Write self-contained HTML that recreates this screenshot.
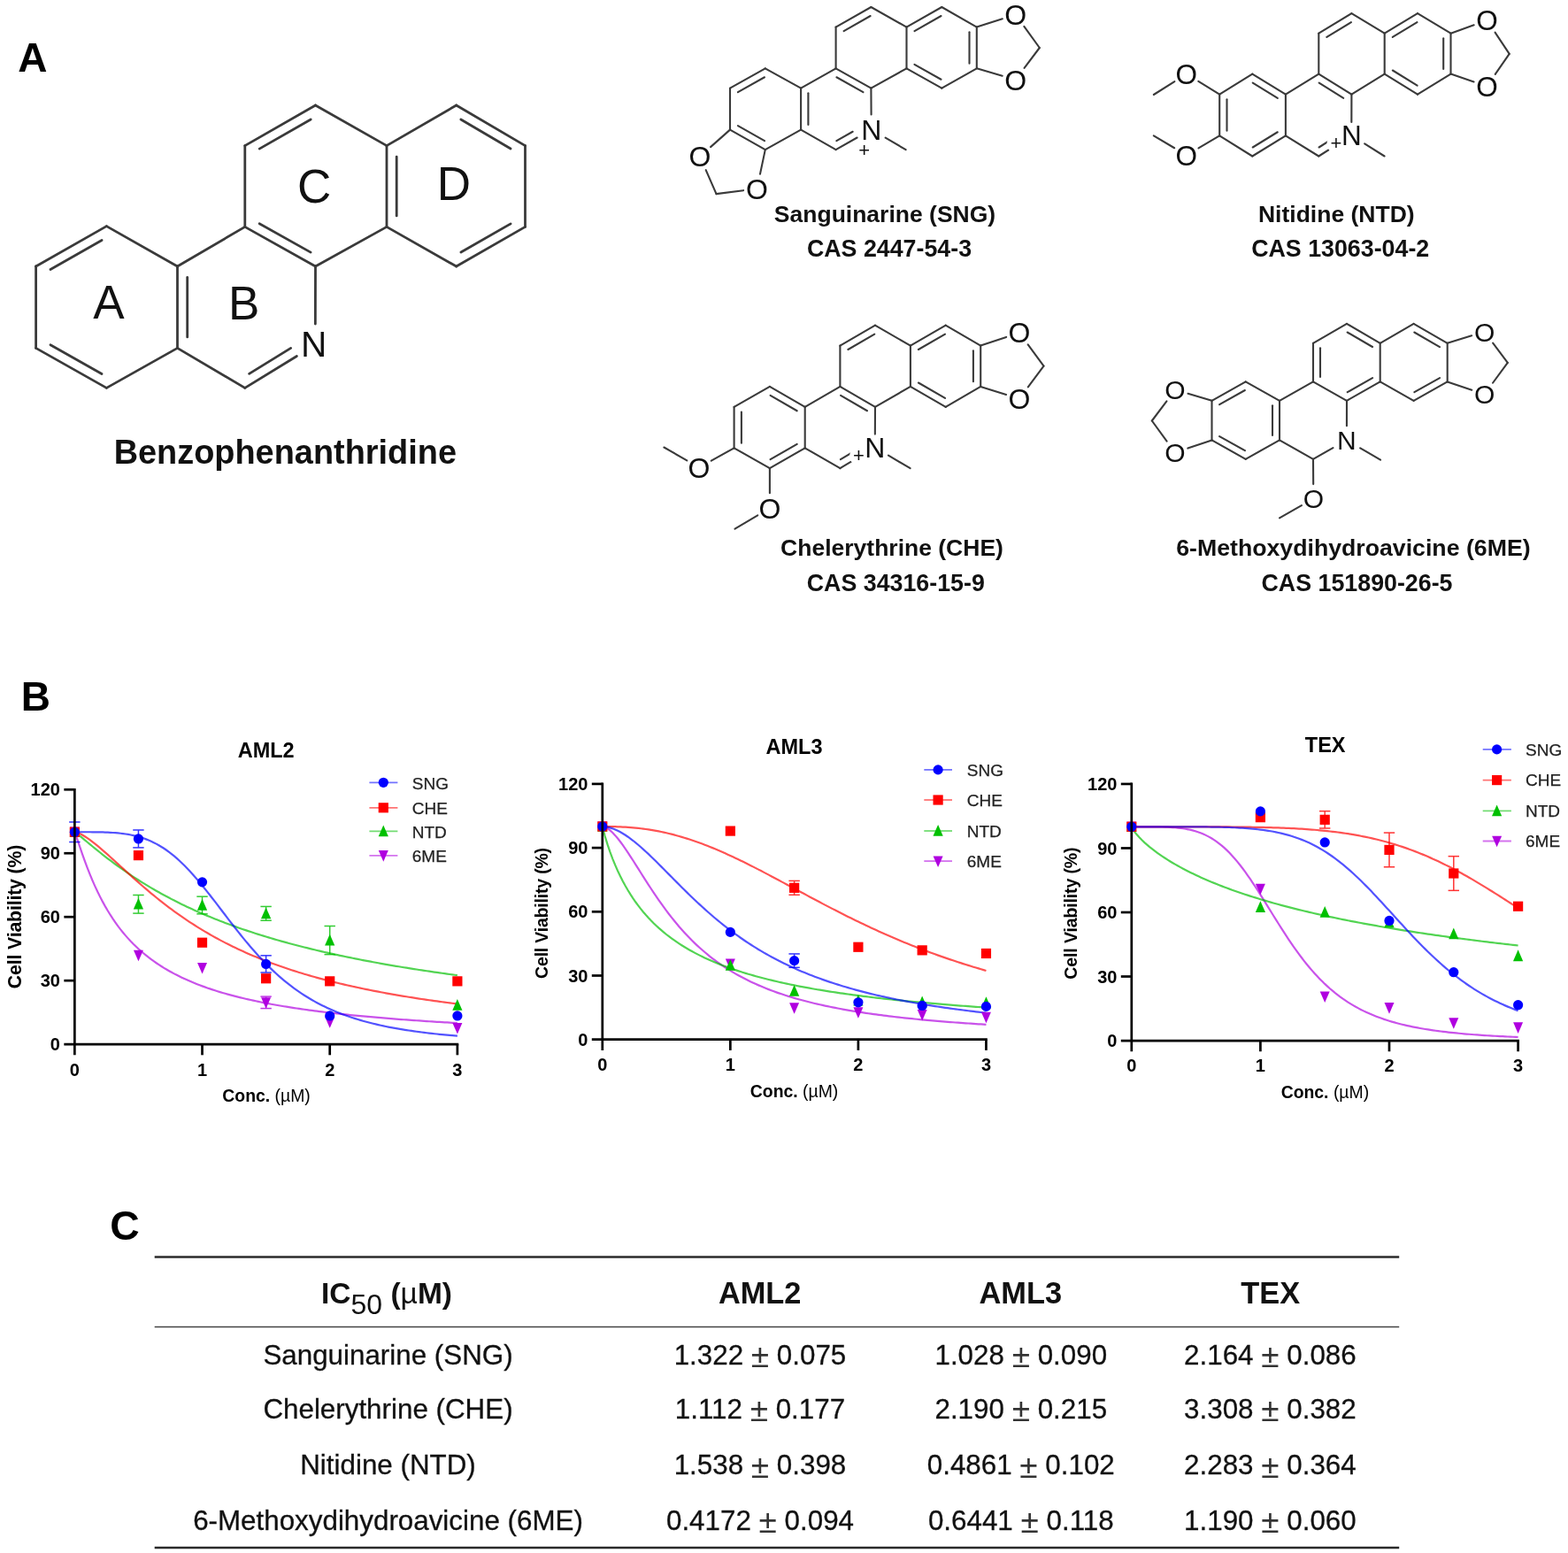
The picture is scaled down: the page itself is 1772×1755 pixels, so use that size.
<!DOCTYPE html>
<html lang="en"><head><meta charset="utf-8"><title>Benzophenanthridine alkaloids - cell viability</title>
<style>html,body{margin:0;padding:0;background:#fff}body{width:1772px;height:1755px;overflow:hidden}svg{display:block;position:absolute;left:0;top:0}text{font-family:'Liberation Sans', Arial, Helvetica, sans-serif}</style></head><body>
<svg width="1772" height="1755" viewBox="0 0 1772 1755">
<g>
<rect width="1772" height="1755" fill="#fff"/>
<g id="panel-labels">
<text x="20.3" y="80.6" font-size="46" font-weight="bold" text-anchor="start" fill="#000">A</text>
<text x="23.7" y="802.6" font-size="46" font-weight="bold" text-anchor="start" fill="#000">B</text>
<text x="124.2" y="1401.2" font-size="46.3" font-weight="bold" text-anchor="start" fill="#000">C</text>
</g>
<g id="benzophenanthridine">
<g stroke-linecap="round">
<line x1="40.6" y1="301" x2="120.4" y2="255.6" stroke="#3a3a3a" stroke-width="2.8" stroke-linecap="round"/>
<line x1="57" y1="304.55" x2="115.07" y2="271.52" stroke="#3a3a3a" stroke-width="2.8" stroke-linecap="round"/>
<line x1="120.4" y1="255.6" x2="200.5" y2="301" stroke="#3a3a3a" stroke-width="2.8" stroke-linecap="round"/>
<line x1="200.5" y1="301" x2="200.5" y2="393.4" stroke="#3a3a3a" stroke-width="2.8" stroke-linecap="round"/>
<line x1="211.7" y1="313.5" x2="211.7" y2="380.9" stroke="#3a3a3a" stroke-width="2.8" stroke-linecap="round"/>
<line x1="200.5" y1="393.4" x2="120.4" y2="438.4" stroke="#3a3a3a" stroke-width="2.8" stroke-linecap="round"/>
<line x1="120.4" y1="438.4" x2="40.6" y2="393.4" stroke="#3a3a3a" stroke-width="2.8" stroke-linecap="round"/>
<line x1="115.01" y1="422.5" x2="56.99" y2="389.78" stroke="#3a3a3a" stroke-width="2.8" stroke-linecap="round"/>
<line x1="40.6" y1="393.4" x2="40.6" y2="301" stroke="#3a3a3a" stroke-width="2.8" stroke-linecap="round"/>
<line x1="200.5" y1="301" x2="276.8" y2="256.4" stroke="#3a3a3a" stroke-width="2.8" stroke-linecap="round"/>
<line x1="276.8" y1="256.4" x2="356.5" y2="301" stroke="#3a3a3a" stroke-width="2.8" stroke-linecap="round"/>
<line x1="293.18" y1="252.73" x2="351.06" y2="285.12" stroke="#3a3a3a" stroke-width="2.8" stroke-linecap="round"/>
<line x1="356.5" y1="301" x2="356.35" y2="366.1" stroke="#3a3a3a" stroke-width="2.8" stroke-linecap="round"/>
<line x1="276.8" y1="438.4" x2="335.37" y2="402.45" stroke="#3a3a3a" stroke-width="2.8" stroke-linecap="round"/>
<line x1="281.59" y1="422.32" x2="328.66" y2="393.43" stroke="#3a3a3a" stroke-width="2.8" stroke-linecap="round"/>
<line x1="200.5" y1="393.4" x2="276.8" y2="438.4" stroke="#3a3a3a" stroke-width="2.8" stroke-linecap="round"/>
<line x1="276.8" y1="256.4" x2="276.8" y2="164.6" stroke="#3a3a3a" stroke-width="2.8" stroke-linecap="round"/>
<line x1="276.8" y1="164.6" x2="356.5" y2="119" stroke="#3a3a3a" stroke-width="2.8" stroke-linecap="round"/>
<line x1="293.21" y1="168.11" x2="351.21" y2="134.93" stroke="#3a3a3a" stroke-width="2.8" stroke-linecap="round"/>
<line x1="356.5" y1="119" x2="437" y2="164.6" stroke="#3a3a3a" stroke-width="2.8" stroke-linecap="round"/>
<line x1="437" y1="164.6" x2="437" y2="256.4" stroke="#3a3a3a" stroke-width="2.8" stroke-linecap="round"/>
<line x1="448.2" y1="177.1" x2="448.2" y2="243.9" stroke="#3a3a3a" stroke-width="2.8" stroke-linecap="round"/>
<line x1="437" y1="256.4" x2="356.5" y2="301" stroke="#3a3a3a" stroke-width="2.8" stroke-linecap="round"/>
<line x1="437" y1="164.6" x2="515.7" y2="119" stroke="#3a3a3a" stroke-width="2.8" stroke-linecap="round"/>
<line x1="515.7" y1="119" x2="593.5" y2="164.6" stroke="#3a3a3a" stroke-width="2.8" stroke-linecap="round"/>
<line x1="520.82" y1="134.98" x2="577.05" y2="167.94" stroke="#3a3a3a" stroke-width="2.8" stroke-linecap="round"/>
<line x1="593.5" y1="164.6" x2="593.5" y2="256.4" stroke="#3a3a3a" stroke-width="2.8" stroke-linecap="round"/>
<line x1="593.5" y1="256.4" x2="515.7" y2="301" stroke="#3a3a3a" stroke-width="2.8" stroke-linecap="round"/>
<line x1="577.09" y1="252.9" x2="520.97" y2="285.07" stroke="#3a3a3a" stroke-width="2.8" stroke-linecap="round"/>
<line x1="515.7" y1="301" x2="437" y2="256.4" stroke="#3a3a3a" stroke-width="2.8" stroke-linecap="round"/>
</g>
<text x="354.7" y="403.1" font-size="40.5" font-weight="normal" text-anchor="middle" fill="#111">N</text>
<text x="122.9" y="360.47" font-size="53" font-weight="normal" text-anchor="middle" fill="#111">A</text>
<text x="275.6" y="360.97" font-size="53" font-weight="normal" text-anchor="middle" fill="#111">B</text>
<text x="355.1" y="228.97" font-size="53" font-weight="normal" text-anchor="middle" fill="#111">C</text>
<text x="513" y="226.27" font-size="53" font-weight="normal" text-anchor="middle" fill="#111">D</text>
<text x="322.3" y="524.3" font-size="37.9" font-weight="bold" text-anchor="middle" fill="#111">Benzophenanthridine</text>
</g>
<g id="sanguinarine">
<g stroke-linecap="round">
<line x1="825" y1="99.7" x2="864.8" y2="77.3" stroke="#3a3a3a" stroke-width="2.1" stroke-linecap="round"/>
<line x1="833.95" y1="104.19" x2="863.99" y2="87.28" stroke="#3a3a3a" stroke-width="2.1" stroke-linecap="round"/>
<line x1="864.8" y1="77.3" x2="905.1" y2="99.7" stroke="#3a3a3a" stroke-width="2.1" stroke-linecap="round"/>
<line x1="905.1" y1="99.7" x2="905.1" y2="146.6" stroke="#3a3a3a" stroke-width="2.1" stroke-linecap="round"/>
<line x1="913.4" y1="105.3" x2="913.4" y2="141" stroke="#3a3a3a" stroke-width="2.1" stroke-linecap="round"/>
<line x1="905.1" y1="146.6" x2="864.8" y2="169.1" stroke="#3a3a3a" stroke-width="2.1" stroke-linecap="round"/>
<line x1="864.8" y1="169.1" x2="825" y2="146.6" stroke="#3a3a3a" stroke-width="2.1" stroke-linecap="round"/>
<line x1="864.01" y1="159.12" x2="833.96" y2="142.13" stroke="#3a3a3a" stroke-width="2.1" stroke-linecap="round"/>
<line x1="825" y1="146.6" x2="825" y2="99.7" stroke="#3a3a3a" stroke-width="2.1" stroke-linecap="round"/>
<line x1="905.1" y1="99.7" x2="944.6" y2="77.3" stroke="#3a3a3a" stroke-width="2.1" stroke-linecap="round"/>
<line x1="944.6" y1="77.3" x2="984.4" y2="99.7" stroke="#3a3a3a" stroke-width="2.1" stroke-linecap="round"/>
<line x1="945.41" y1="87.28" x2="975.45" y2="104.19" stroke="#3a3a3a" stroke-width="2.1" stroke-linecap="round"/>
<line x1="984.4" y1="99.7" x2="984.59" y2="129.4" stroke="#3a3a3a" stroke-width="2.1" stroke-linecap="round"/>
<line x1="944.6" y1="169.1" x2="968.64" y2="155.49" stroke="#3a3a3a" stroke-width="2.1" stroke-linecap="round"/>
<line x1="945.38" y1="159.12" x2="963.68" y2="148.76" stroke="#3a3a3a" stroke-width="2.1" stroke-linecap="round"/>
<line x1="905.1" y1="146.6" x2="944.6" y2="169.1" stroke="#3a3a3a" stroke-width="2.1" stroke-linecap="round"/>
<line x1="944.6" y1="77.3" x2="944.6" y2="30.6" stroke="#3a3a3a" stroke-width="2.1" stroke-linecap="round"/>
<line x1="944.6" y1="30.6" x2="984.4" y2="8" stroke="#3a3a3a" stroke-width="2.1" stroke-linecap="round"/>
<line x1="953.57" y1="35.05" x2="983.63" y2="17.98" stroke="#3a3a3a" stroke-width="2.1" stroke-linecap="round"/>
<line x1="984.4" y1="8" x2="1024.5" y2="30.6" stroke="#3a3a3a" stroke-width="2.1" stroke-linecap="round"/>
<line x1="1024.5" y1="30.6" x2="1024.5" y2="77.3" stroke="#3a3a3a" stroke-width="2.1" stroke-linecap="round"/>
<line x1="1024.5" y1="77.3" x2="984.4" y2="99.7" stroke="#3a3a3a" stroke-width="2.1" stroke-linecap="round"/>
<line x1="1024.5" y1="30.6" x2="1064.3" y2="8" stroke="#3a3a3a" stroke-width="2.1" stroke-linecap="round"/>
<line x1="1033.47" y1="35.05" x2="1063.53" y2="17.98" stroke="#3a3a3a" stroke-width="2.1" stroke-linecap="round"/>
<line x1="1064.3" y1="8" x2="1103.8" y2="30.6" stroke="#3a3a3a" stroke-width="2.1" stroke-linecap="round"/>
<line x1="1103.8" y1="30.6" x2="1103.8" y2="77.3" stroke="#3a3a3a" stroke-width="2.1" stroke-linecap="round"/>
<line x1="1095.5" y1="36.2" x2="1095.5" y2="71.7" stroke="#3a3a3a" stroke-width="2.1" stroke-linecap="round"/>
<line x1="1103.8" y1="77.3" x2="1064.3" y2="99.7" stroke="#3a3a3a" stroke-width="2.1" stroke-linecap="round"/>
<line x1="1064.3" y1="99.7" x2="1024.5" y2="77.3" stroke="#3a3a3a" stroke-width="2.1" stroke-linecap="round"/>
<line x1="1063.49" y1="89.72" x2="1033.45" y2="72.81" stroke="#3a3a3a" stroke-width="2.1" stroke-linecap="round"/>
<line x1="1103.8" y1="30.6" x2="1132.82" y2="21.35" stroke="#3a3a3a" stroke-width="2.1" stroke-linecap="round"/>
<line x1="1103.8" y1="77.3" x2="1132.72" y2="85.73" stroke="#3a3a3a" stroke-width="2.1" stroke-linecap="round"/>
<line x1="1157.34" y1="29.91" x2="1174.8" y2="54" stroke="#3a3a3a" stroke-width="2.1" stroke-linecap="round"/>
<line x1="1157.55" y1="76.98" x2="1174.8" y2="54" stroke="#3a3a3a" stroke-width="2.1" stroke-linecap="round"/>
<line x1="825" y1="146.6" x2="803.05" y2="166.1" stroke="#3a3a3a" stroke-width="2.1" stroke-linecap="round"/>
<line x1="864.8" y1="169.1" x2="858.99" y2="196.64" stroke="#3a3a3a" stroke-width="2.1" stroke-linecap="round"/>
<line x1="797.7" y1="192.13" x2="809.5" y2="219.1" stroke="#3a3a3a" stroke-width="2.1" stroke-linecap="round"/>
<line x1="840.1" y1="215.17" x2="809.5" y2="219.1" stroke="#3a3a3a" stroke-width="2.1" stroke-linecap="round"/>
<line x1="1000.61" y1="155.69" x2="1023.6" y2="169.1" stroke="#3a3a3a" stroke-width="2.1" stroke-linecap="round"/>
</g>
<text x="984.7" y="157.86" font-size="32" font-weight="normal" text-anchor="middle" fill="#111">N</text>
<text x="1147.7" y="28.06" font-size="32" font-weight="normal" text-anchor="middle" fill="#111">O</text>
<text x="1147.7" y="101.56" font-size="32" font-weight="normal" text-anchor="middle" fill="#111">O</text>
<text x="791" y="188.26" font-size="32" font-weight="normal" text-anchor="middle" fill="#111">O</text>
<text x="855.5" y="224.66" font-size="32" font-weight="normal" text-anchor="middle" fill="#111">O</text>
<text x="976.8" y="177" font-size="22" font-weight="normal" text-anchor="middle" fill="#111">+</text>
<text x="1000" y="251" font-size="26.5" font-weight="bold" text-anchor="middle" fill="#111">Sanguinarine (SNG)</text>
<text x="1005" y="289.5" font-size="26.8" font-weight="bold" text-anchor="middle" fill="#111">CAS 2447-54-3</text>
</g>
<g id="nitidine">
<g stroke-linecap="round">
<line x1="1378.2" y1="106.7" x2="1415.3" y2="83.6" stroke="#3a3a3a" stroke-width="2.1" stroke-linecap="round"/>
<line x1="1415.3" y1="83.6" x2="1452.9" y2="106.7" stroke="#3a3a3a" stroke-width="2.1" stroke-linecap="round"/>
<line x1="1415.73" y1="93.6" x2="1443.78" y2="110.84" stroke="#3a3a3a" stroke-width="2.1" stroke-linecap="round"/>
<line x1="1452.9" y1="106.7" x2="1452.9" y2="153.4" stroke="#3a3a3a" stroke-width="2.1" stroke-linecap="round"/>
<line x1="1452.9" y1="153.4" x2="1415.3" y2="176.5" stroke="#3a3a3a" stroke-width="2.1" stroke-linecap="round"/>
<line x1="1443.78" y1="149.26" x2="1415.73" y2="166.5" stroke="#3a3a3a" stroke-width="2.1" stroke-linecap="round"/>
<line x1="1415.3" y1="176.5" x2="1378.2" y2="153.4" stroke="#3a3a3a" stroke-width="2.1" stroke-linecap="round"/>
<line x1="1378.2" y1="153.4" x2="1378.2" y2="106.7" stroke="#3a3a3a" stroke-width="2.1" stroke-linecap="round"/>
<line x1="1386.5" y1="147.8" x2="1386.5" y2="112.3" stroke="#3a3a3a" stroke-width="2.1" stroke-linecap="round"/>
<line x1="1452.9" y1="106.7" x2="1490.3" y2="83.6" stroke="#3a3a3a" stroke-width="2.1" stroke-linecap="round"/>
<line x1="1490.3" y1="83.6" x2="1527.4" y2="106.7" stroke="#3a3a3a" stroke-width="2.1" stroke-linecap="round"/>
<line x1="1490.67" y1="93.61" x2="1518.26" y2="110.79" stroke="#3a3a3a" stroke-width="2.1" stroke-linecap="round"/>
<line x1="1527.4" y1="106.7" x2="1527.33" y2="138" stroke="#3a3a3a" stroke-width="2.1" stroke-linecap="round"/>
<line x1="1490.3" y1="176.5" x2="1512.5" y2="162.4" stroke="#3a3a3a" stroke-width="2.1" stroke-linecap="round"/>
<line x1="1490.58" y1="166.49" x2="1507.2" y2="155.93" stroke="#3a3a3a" stroke-width="2.1" stroke-linecap="round"/>
<line x1="1452.9" y1="153.4" x2="1490.3" y2="176.5" stroke="#3a3a3a" stroke-width="2.1" stroke-linecap="round"/>
<line x1="1490.3" y1="83.6" x2="1490.3" y2="37.7" stroke="#3a3a3a" stroke-width="2.1" stroke-linecap="round"/>
<line x1="1490.3" y1="37.7" x2="1527.4" y2="15.2" stroke="#3a3a3a" stroke-width="2.1" stroke-linecap="round"/>
<line x1="1499.39" y1="41.89" x2="1526.92" y2="25.2" stroke="#3a3a3a" stroke-width="2.1" stroke-linecap="round"/>
<line x1="1527.4" y1="15.2" x2="1564.7" y2="37.7" stroke="#3a3a3a" stroke-width="2.1" stroke-linecap="round"/>
<line x1="1564.7" y1="37.7" x2="1564.7" y2="83.6" stroke="#3a3a3a" stroke-width="2.1" stroke-linecap="round"/>
<line x1="1564.7" y1="83.6" x2="1527.4" y2="106.7" stroke="#3a3a3a" stroke-width="2.1" stroke-linecap="round"/>
<line x1="1564.7" y1="37.7" x2="1602" y2="15.2" stroke="#3a3a3a" stroke-width="2.1" stroke-linecap="round"/>
<line x1="1573.78" y1="41.91" x2="1601.49" y2="25.2" stroke="#3a3a3a" stroke-width="2.1" stroke-linecap="round"/>
<line x1="1602" y1="15.2" x2="1639.5" y2="37.7" stroke="#3a3a3a" stroke-width="2.1" stroke-linecap="round"/>
<line x1="1639.5" y1="37.7" x2="1639.5" y2="83.6" stroke="#3a3a3a" stroke-width="2.1" stroke-linecap="round"/>
<line x1="1631.2" y1="43.3" x2="1631.2" y2="78" stroke="#3a3a3a" stroke-width="2.1" stroke-linecap="round"/>
<line x1="1639.5" y1="83.6" x2="1602" y2="106.7" stroke="#3a3a3a" stroke-width="2.1" stroke-linecap="round"/>
<line x1="1602" y1="106.7" x2="1564.7" y2="83.6" stroke="#3a3a3a" stroke-width="2.1" stroke-linecap="round"/>
<line x1="1601.61" y1="96.7" x2="1573.83" y2="79.49" stroke="#3a3a3a" stroke-width="2.1" stroke-linecap="round"/>
<line x1="1639.5" y1="37.7" x2="1665.67" y2="28.29" stroke="#3a3a3a" stroke-width="2.1" stroke-linecap="round"/>
<line x1="1639.5" y1="83.6" x2="1665.59" y2="92.4" stroke="#3a3a3a" stroke-width="2.1" stroke-linecap="round"/>
<line x1="1689.57" y1="36.7" x2="1705.7" y2="60.8" stroke="#3a3a3a" stroke-width="2.1" stroke-linecap="round"/>
<line x1="1689.76" y1="83.85" x2="1705.7" y2="60.8" stroke="#3a3a3a" stroke-width="2.1" stroke-linecap="round"/>
<line x1="1378.2" y1="106.7" x2="1354.29" y2="91.87" stroke="#3a3a3a" stroke-width="2.1" stroke-linecap="round"/>
<line x1="1378.2" y1="153.4" x2="1354.46" y2="167.37" stroke="#3a3a3a" stroke-width="2.1" stroke-linecap="round"/>
<line x1="1327.39" y1="92.02" x2="1303.8" y2="107" stroke="#3a3a3a" stroke-width="2.1" stroke-linecap="round"/>
<line x1="1327.19" y1="167.27" x2="1303.8" y2="153.3" stroke="#3a3a3a" stroke-width="2.1" stroke-linecap="round"/>
<line x1="1542.15" y1="162.36" x2="1564.6" y2="176.5" stroke="#3a3a3a" stroke-width="2.1" stroke-linecap="round"/>
</g>
<circle cx="1509.9" cy="162.7" r="10.5" fill="#fff"/>
<text x="1527.3" y="164.28" font-size="31.5" font-weight="normal" text-anchor="middle" fill="#111">N</text>
<text x="1680.4" y="34.28" font-size="31.5" font-weight="normal" text-anchor="middle" fill="#111">O</text>
<text x="1680.4" y="108.68" font-size="31.5" font-weight="normal" text-anchor="middle" fill="#111">O</text>
<text x="1340.8" y="94.78" font-size="31.5" font-weight="normal" text-anchor="middle" fill="#111">O</text>
<text x="1340.8" y="186.68" font-size="31.5" font-weight="normal" text-anchor="middle" fill="#111">O</text>
<text x="1509.9" y="169.3" font-size="22" font-weight="normal" text-anchor="middle" fill="#111">+</text>
<text x="1510.3" y="251.4" font-size="26.5" font-weight="bold" text-anchor="middle" fill="#111">Nitidine (NTD)</text>
<text x="1514.7" y="289.5" font-size="26.8" font-weight="bold" text-anchor="middle" fill="#111">CAS 13063-04-2</text>
</g>
<g id="chelerythrine">
<g stroke-linecap="round">
<line x1="829.6" y1="459.9" x2="869.9" y2="436.9" stroke="#3a3a3a" stroke-width="2.1" stroke-linecap="round"/>
<line x1="869.9" y1="436.9" x2="909.7" y2="459.9" stroke="#3a3a3a" stroke-width="2.1" stroke-linecap="round"/>
<line x1="870.6" y1="446.89" x2="900.7" y2="464.28" stroke="#3a3a3a" stroke-width="2.1" stroke-linecap="round"/>
<line x1="909.7" y1="459.9" x2="909.7" y2="506.3" stroke="#3a3a3a" stroke-width="2.1" stroke-linecap="round"/>
<line x1="909.7" y1="506.3" x2="869.9" y2="529.2" stroke="#3a3a3a" stroke-width="2.1" stroke-linecap="round"/>
<line x1="900.71" y1="501.9" x2="870.61" y2="519.21" stroke="#3a3a3a" stroke-width="2.1" stroke-linecap="round"/>
<line x1="869.9" y1="529.2" x2="829.6" y2="506.3" stroke="#3a3a3a" stroke-width="2.1" stroke-linecap="round"/>
<line x1="829.6" y1="506.3" x2="829.6" y2="459.9" stroke="#3a3a3a" stroke-width="2.1" stroke-linecap="round"/>
<line x1="837.9" y1="500.7" x2="837.9" y2="465.5" stroke="#3a3a3a" stroke-width="2.1" stroke-linecap="round"/>
<line x1="909.7" y1="459.9" x2="949.4" y2="436.9" stroke="#3a3a3a" stroke-width="2.1" stroke-linecap="round"/>
<line x1="949.4" y1="436.9" x2="989" y2="459.9" stroke="#3a3a3a" stroke-width="2.1" stroke-linecap="round"/>
<line x1="950.07" y1="446.89" x2="979.99" y2="464.26" stroke="#3a3a3a" stroke-width="2.1" stroke-linecap="round"/>
<line x1="989" y1="459.9" x2="988.87" y2="490.6" stroke="#3a3a3a" stroke-width="2.1" stroke-linecap="round"/>
<line x1="949.4" y1="529.2" x2="973.66" y2="514.67" stroke="#3a3a3a" stroke-width="2.1" stroke-linecap="round"/>
<line x1="949.94" y1="519.2" x2="968.54" y2="508.06" stroke="#3a3a3a" stroke-width="2.1" stroke-linecap="round"/>
<line x1="909.7" y1="506.3" x2="949.4" y2="529.2" stroke="#3a3a3a" stroke-width="2.1" stroke-linecap="round"/>
<line x1="949.4" y1="436.9" x2="949.4" y2="390.6" stroke="#3a3a3a" stroke-width="2.1" stroke-linecap="round"/>
<line x1="949.4" y1="390.6" x2="989" y2="367.7" stroke="#3a3a3a" stroke-width="2.1" stroke-linecap="round"/>
<line x1="958.4" y1="394.98" x2="988.31" y2="377.69" stroke="#3a3a3a" stroke-width="2.1" stroke-linecap="round"/>
<line x1="989" y1="367.7" x2="1028.9" y2="390.6" stroke="#3a3a3a" stroke-width="2.1" stroke-linecap="round"/>
<line x1="1028.9" y1="390.6" x2="1028.9" y2="436.9" stroke="#3a3a3a" stroke-width="2.1" stroke-linecap="round"/>
<line x1="1028.9" y1="436.9" x2="989" y2="459.9" stroke="#3a3a3a" stroke-width="2.1" stroke-linecap="round"/>
<line x1="1028.9" y1="390.6" x2="1068.7" y2="367.7" stroke="#3a3a3a" stroke-width="2.1" stroke-linecap="round"/>
<line x1="1037.89" y1="395" x2="1067.99" y2="377.69" stroke="#3a3a3a" stroke-width="2.1" stroke-linecap="round"/>
<line x1="1068.7" y1="367.7" x2="1108.2" y2="390.6" stroke="#3a3a3a" stroke-width="2.1" stroke-linecap="round"/>
<line x1="1108.2" y1="390.6" x2="1108.2" y2="436.9" stroke="#3a3a3a" stroke-width="2.1" stroke-linecap="round"/>
<line x1="1099.9" y1="396.2" x2="1099.9" y2="431.3" stroke="#3a3a3a" stroke-width="2.1" stroke-linecap="round"/>
<line x1="1108.2" y1="436.9" x2="1068.7" y2="459.9" stroke="#3a3a3a" stroke-width="2.1" stroke-linecap="round"/>
<line x1="1068.7" y1="459.9" x2="1028.9" y2="436.9" stroke="#3a3a3a" stroke-width="2.1" stroke-linecap="round"/>
<line x1="1068" y1="449.91" x2="1037.9" y2="432.52" stroke="#3a3a3a" stroke-width="2.1" stroke-linecap="round"/>
<line x1="1108.2" y1="390.6" x2="1137.17" y2="380.94" stroke="#3a3a3a" stroke-width="2.1" stroke-linecap="round"/>
<line x1="1108.2" y1="436.9" x2="1137.09" y2="445.94" stroke="#3a3a3a" stroke-width="2.1" stroke-linecap="round"/>
<line x1="1161.68" y1="389.27" x2="1179.5" y2="413.7" stroke="#3a3a3a" stroke-width="2.1" stroke-linecap="round"/>
<line x1="1161.81" y1="437.44" x2="1179.5" y2="413.7" stroke="#3a3a3a" stroke-width="2.1" stroke-linecap="round"/>
<line x1="829.6" y1="506.3" x2="803.83" y2="520.62" stroke="#3a3a3a" stroke-width="2.1" stroke-linecap="round"/>
<line x1="869.9" y1="529.2" x2="869.9" y2="557.3" stroke="#3a3a3a" stroke-width="2.1" stroke-linecap="round"/>
<line x1="776.28" y1="520.4" x2="750.4" y2="505.5" stroke="#3a3a3a" stroke-width="2.1" stroke-linecap="round"/>
<line x1="856.26" y1="582.37" x2="830.5" y2="597.6" stroke="#3a3a3a" stroke-width="2.1" stroke-linecap="round"/>
<line x1="1003.99" y1="514.61" x2="1028.6" y2="529.2" stroke="#3a3a3a" stroke-width="2.1" stroke-linecap="round"/>
</g>
<circle cx="970.4" cy="515.4" r="10.5" fill="#fff"/>
<text x="988.8" y="517.06" font-size="32" font-weight="normal" text-anchor="middle" fill="#111">N</text>
<text x="1152" y="387.46" font-size="32" font-weight="normal" text-anchor="middle" fill="#111">O</text>
<text x="1152" y="462.06" font-size="32" font-weight="normal" text-anchor="middle" fill="#111">O</text>
<text x="790" y="539.76" font-size="32" font-weight="normal" text-anchor="middle" fill="#111">O</text>
<text x="869.9" y="585.76" font-size="32" font-weight="normal" text-anchor="middle" fill="#111">O</text>
<text x="970.4" y="522" font-size="22" font-weight="normal" text-anchor="middle" fill="#111">+</text>
<text x="1008" y="627.8" font-size="26.5" font-weight="bold" text-anchor="middle" fill="#111">Chelerythrine (CHE)</text>
<text x="1012.3" y="667.6" font-size="26.8" font-weight="bold" text-anchor="middle" fill="#111">CAS 34316-15-9</text>
</g>
<g id="methoxydihydroavicine">
<g stroke-linecap="round">
<line x1="1369.5" y1="452.8" x2="1407.7" y2="431.4" stroke="#3a3a3a" stroke-width="2.1" stroke-linecap="round"/>
<line x1="1378.12" y1="457.14" x2="1406.9" y2="441.02" stroke="#3a3a3a" stroke-width="2.1" stroke-linecap="round"/>
<line x1="1407.7" y1="431.4" x2="1446" y2="452.8" stroke="#3a3a3a" stroke-width="2.1" stroke-linecap="round"/>
<line x1="1446" y1="452.8" x2="1446" y2="497.4" stroke="#3a3a3a" stroke-width="2.1" stroke-linecap="round"/>
<line x1="1438" y1="458.2" x2="1438" y2="492" stroke="#3a3a3a" stroke-width="2.1" stroke-linecap="round"/>
<line x1="1446" y1="497.4" x2="1407.7" y2="518.8" stroke="#3a3a3a" stroke-width="2.1" stroke-linecap="round"/>
<line x1="1407.7" y1="518.8" x2="1369.5" y2="497.4" stroke="#3a3a3a" stroke-width="2.1" stroke-linecap="round"/>
<line x1="1406.9" y1="509.18" x2="1378.12" y2="493.06" stroke="#3a3a3a" stroke-width="2.1" stroke-linecap="round"/>
<line x1="1369.5" y1="497.4" x2="1369.5" y2="452.8" stroke="#3a3a3a" stroke-width="2.1" stroke-linecap="round"/>
<line x1="1446" y1="452.8" x2="1484" y2="431.4" stroke="#3a3a3a" stroke-width="2.1" stroke-linecap="round"/>
<line x1="1484" y1="431.4" x2="1522" y2="452.8" stroke="#3a3a3a" stroke-width="2.1" stroke-linecap="round"/>
<line x1="1522" y1="452.8" x2="1521.94" y2="481.3" stroke="#3a3a3a" stroke-width="2.1" stroke-linecap="round"/>
<line x1="1484" y1="518.8" x2="1506.43" y2="506.08" stroke="#3a3a3a" stroke-width="2.1" stroke-linecap="round"/>
<line x1="1446" y1="497.4" x2="1484" y2="518.8" stroke="#3a3a3a" stroke-width="2.1" stroke-linecap="round"/>
<line x1="1484" y1="431.4" x2="1484" y2="387.8" stroke="#3a3a3a" stroke-width="2.1" stroke-linecap="round"/>
<line x1="1492" y1="426" x2="1492" y2="393.2" stroke="#3a3a3a" stroke-width="2.1" stroke-linecap="round"/>
<line x1="1484" y1="387.8" x2="1522" y2="365.9" stroke="#3a3a3a" stroke-width="2.1" stroke-linecap="round"/>
<line x1="1522" y1="365.9" x2="1559.7" y2="387.8" stroke="#3a3a3a" stroke-width="2.1" stroke-linecap="round"/>
<line x1="1522.65" y1="375.53" x2="1551.01" y2="392.01" stroke="#3a3a3a" stroke-width="2.1" stroke-linecap="round"/>
<line x1="1559.7" y1="387.8" x2="1559.7" y2="431.4" stroke="#3a3a3a" stroke-width="2.1" stroke-linecap="round"/>
<line x1="1559.7" y1="431.4" x2="1522" y2="452.8" stroke="#3a3a3a" stroke-width="2.1" stroke-linecap="round"/>
<line x1="1551.05" y1="427.11" x2="1522.75" y2="443.18" stroke="#3a3a3a" stroke-width="2.1" stroke-linecap="round"/>
<line x1="1559.7" y1="387.8" x2="1597.6" y2="365.9" stroke="#3a3a3a" stroke-width="2.1" stroke-linecap="round"/>
<line x1="1597.6" y1="365.9" x2="1635.7" y2="387.8" stroke="#3a3a3a" stroke-width="2.1" stroke-linecap="round"/>
<line x1="1598.29" y1="375.53" x2="1627.03" y2="392.04" stroke="#3a3a3a" stroke-width="2.1" stroke-linecap="round"/>
<line x1="1635.7" y1="387.8" x2="1635.7" y2="431.4" stroke="#3a3a3a" stroke-width="2.1" stroke-linecap="round"/>
<line x1="1635.7" y1="431.4" x2="1597.6" y2="452.8" stroke="#3a3a3a" stroke-width="2.1" stroke-linecap="round"/>
<line x1="1627.07" y1="427.07" x2="1598.39" y2="443.18" stroke="#3a3a3a" stroke-width="2.1" stroke-linecap="round"/>
<line x1="1597.6" y1="452.8" x2="1559.7" y2="431.4" stroke="#3a3a3a" stroke-width="2.1" stroke-linecap="round"/>
<line x1="1635.7" y1="387.8" x2="1663.16" y2="379.28" stroke="#3a3a3a" stroke-width="2.1" stroke-linecap="round"/>
<line x1="1635.7" y1="431.4" x2="1663.26" y2="440.74" stroke="#3a3a3a" stroke-width="2.1" stroke-linecap="round"/>
<line x1="1687.13" y1="387.54" x2="1703.8" y2="409.8" stroke="#3a3a3a" stroke-width="2.1" stroke-linecap="round"/>
<line x1="1687.01" y1="432.75" x2="1703.8" y2="409.8" stroke="#3a3a3a" stroke-width="2.1" stroke-linecap="round"/>
<line x1="1369.5" y1="452.8" x2="1342.49" y2="444.86" stroke="#3a3a3a" stroke-width="2.1" stroke-linecap="round"/>
<line x1="1369.5" y1="497.4" x2="1342.34" y2="506.56" stroke="#3a3a3a" stroke-width="2.1" stroke-linecap="round"/>
<line x1="1318.45" y1="453.32" x2="1301.8" y2="475.5" stroke="#3a3a3a" stroke-width="2.1" stroke-linecap="round"/>
<line x1="1318.61" y1="498.53" x2="1301.8" y2="475.5" stroke="#3a3a3a" stroke-width="2.1" stroke-linecap="round"/>
<line x1="1484" y1="518.8" x2="1484.19" y2="547.1" stroke="#3a3a3a" stroke-width="2.1" stroke-linecap="round"/>
<line x1="1470.96" y1="571.16" x2="1446" y2="585.3" stroke="#3a3a3a" stroke-width="2.1" stroke-linecap="round"/>
<line x1="1537.2" y1="506.3" x2="1560" y2="519.7" stroke="#3a3a3a" stroke-width="2.1" stroke-linecap="round"/>
</g>
<text x="1521.9" y="508.04" font-size="30" font-weight="normal" text-anchor="middle" fill="#111">N</text>
<text x="1677.6" y="385.54" font-size="30" font-weight="normal" text-anchor="middle" fill="#111">O</text>
<text x="1677.6" y="456.34" font-size="30" font-weight="normal" text-anchor="middle" fill="#111">O</text>
<text x="1328" y="451.34" font-size="30" font-weight="normal" text-anchor="middle" fill="#111">O</text>
<text x="1328" y="522.14" font-size="30" font-weight="normal" text-anchor="middle" fill="#111">O</text>
<text x="1484.3" y="574.34" font-size="30" font-weight="normal" text-anchor="middle" fill="#111">O</text>
<text x="1529.4" y="627.8" font-size="26.7" font-weight="bold" text-anchor="middle" fill="#111">6-Methoxydihydroavicine (6ME)</text>
<text x="1533.5" y="667.6" font-size="26.8" font-weight="bold" text-anchor="middle" fill="#111">CAS 151890-26-5</text>
</g>
<g id="chart-aml2">
<polyline points="84.35,940.25 87.23,948.12 90.12,956.65 93,965.04 95.88,973.13 98.77,980.84 101.65,988.15 104.54,995.07 107.42,1001.62 110.3,1007.8 113.19,1013.63 116.07,1019.15 118.95,1024.37 121.84,1029.3 124.72,1033.97 127.6,1038.39 130.49,1042.58 133.37,1046.57 136.25,1050.35 139.14,1053.94 142.02,1057.36 144.91,1060.62 147.79,1063.73 150.67,1066.69 153.56,1069.52 156.44,1072.23 159.32,1074.81 162.21,1077.29 165.09,1079.66 167.97,1081.94 170.86,1084.12 173.74,1086.22 176.63,1088.23 179.51,1090.16 182.39,1092.03 185.28,1093.82 188.16,1095.54 191.04,1097.21 193.93,1098.81 196.81,1100.36 199.69,1101.85 202.58,1103.3 205.46,1104.69 208.34,1106.04 211.23,1107.34 214.11,1108.61 217,1109.83 219.88,1111.01 222.76,1112.16 225.65,1113.27 228.53,1114.35 231.41,1115.4 234.3,1116.42 237.18,1117.41 240.06,1118.37 242.95,1119.3 245.83,1120.2 248.72,1121.09 251.6,1121.94 254.48,1122.78 257.37,1123.59 260.25,1124.38 263.13,1125.15 266.02,1125.91 268.9,1126.64 271.78,1127.35 274.67,1128.05 277.55,1128.73 280.43,1129.39 283.32,1130.04 286.2,1130.67 289.09,1131.29 291.97,1131.89 294.85,1132.48 297.74,1133.06 300.62,1133.62 303.5,1134.17 306.39,1134.71 309.27,1135.23 312.15,1135.75 315.04,1136.25 317.92,1136.75 320.81,1137.23 323.69,1137.7 326.57,1138.17 329.46,1138.62 332.34,1139.07 335.22,1139.5 338.11,1139.93 340.99,1140.35 343.87,1140.76 346.76,1141.16 349.64,1141.56 352.52,1141.95 355.41,1142.33 358.29,1142.7 361.18,1143.07 364.06,1143.43 366.94,1143.78 369.83,1144.13 372.71,1144.47 375.59,1144.81 378.48,1145.13 381.36,1145.46 384.24,1145.78 387.13,1146.09 390.01,1146.39 392.9,1146.7 395.78,1146.99 398.66,1147.29 401.55,1147.57 404.43,1147.85 407.31,1148.13 410.2,1148.41 413.08,1148.68 415.96,1148.94 418.85,1149.2 421.73,1149.46 424.61,1149.71 427.5,1149.96 430.38,1150.2 433.27,1150.44 436.15,1150.68 439.03,1150.92 441.92,1151.15 444.8,1151.37 447.68,1151.6 450.57,1151.82 453.45,1152.03 456.33,1152.25 459.22,1152.46 462.1,1152.67 464.99,1152.87 467.87,1153.07 470.75,1153.27 473.64,1153.47 476.52,1153.67 479.4,1153.86 482.29,1154.05 485.17,1154.23 488.05,1154.42 490.94,1154.6 493.82,1154.78 496.7,1154.95 499.59,1155.13 502.47,1155.3 505.36,1155.47 508.24,1155.64 511.12,1155.8 514.01,1155.96 516.89,1156.13" fill="none" stroke="#b000e0" stroke-width="2.2" stroke-opacity="0.68"/>
<polyline points="84.35,940.25 87.23,942.31 90.12,944.6 93,946.95 95.88,949.34 98.77,951.73 101.65,954.12 104.54,956.5 107.42,958.86 110.3,961.19 113.19,963.5 116.07,965.78 118.95,968.04 121.84,970.26 124.72,972.46 127.6,974.62 130.49,976.75 133.37,978.85 136.25,980.92 139.14,982.96 142.02,984.97 144.91,986.94 147.79,988.88 150.67,990.8 153.56,992.68 156.44,994.53 159.32,996.35 162.21,998.15 165.09,999.91 167.97,1001.65 170.86,1003.36 173.74,1005.04 176.63,1006.7 179.51,1008.33 182.39,1009.93 185.28,1011.51 188.16,1013.06 191.04,1014.59 193.93,1016.1 196.81,1017.58 199.69,1019.04 202.58,1020.47 205.46,1021.89 208.34,1023.28 211.23,1024.65 214.11,1026 217,1027.33 219.88,1028.64 222.76,1029.93 225.65,1031.2 228.53,1032.45 231.41,1033.68 234.3,1034.89 237.18,1036.09 240.06,1037.27 242.95,1038.43 245.83,1039.58 248.72,1040.7 251.6,1041.82 254.48,1042.91 257.37,1044 260.25,1045.06 263.13,1046.11 266.02,1047.15 268.9,1048.17 271.78,1049.18 274.67,1050.17 277.55,1051.15 280.43,1052.12 283.32,1053.07 286.2,1054.01 289.09,1054.94 291.97,1055.86 294.85,1056.76 297.74,1057.65 300.62,1058.53 303.5,1059.4 306.39,1060.26 309.27,1061.11 312.15,1061.94 315.04,1062.77 317.92,1063.58 320.81,1064.39 323.69,1065.18 326.57,1065.96 329.46,1066.74 332.34,1067.5 335.22,1068.26 338.11,1069 340.99,1069.74 343.87,1070.47 346.76,1071.19 349.64,1071.9 352.52,1072.6 355.41,1073.29 358.29,1073.98 361.18,1074.66 364.06,1075.33 366.94,1075.99 369.83,1076.64 372.71,1077.29 375.59,1077.93 378.48,1078.56 381.36,1079.18 384.24,1079.8 387.13,1080.41 390.01,1081.01 392.9,1081.61 395.78,1082.2 398.66,1082.78 401.55,1083.36 404.43,1083.93 407.31,1084.5 410.2,1085.06 413.08,1085.61 415.96,1086.16 418.85,1086.7 421.73,1087.23 424.61,1087.76 427.5,1088.28 430.38,1088.8 433.27,1089.32 436.15,1089.82 439.03,1090.32 441.92,1090.82 444.8,1091.31 447.68,1091.8 450.57,1092.28 453.45,1092.76 456.33,1093.23 459.22,1093.7 462.1,1094.16 464.99,1094.62 467.87,1095.07 470.75,1095.52 473.64,1095.97 476.52,1096.41 479.4,1096.85 482.29,1097.28 485.17,1097.7 488.05,1098.13 490.94,1098.55 493.82,1098.96 496.7,1099.38 499.59,1099.78 502.47,1100.19 505.36,1100.59 508.24,1100.98 511.12,1101.38 514.01,1101.77 516.89,1102.15" fill="none" stroke="#00c000" stroke-width="2.2" stroke-opacity="0.68"/>
<polyline points="84.35,940.25 87.23,940.93 90.12,942.1 93,943.58 95.88,945.28 98.77,947.17 101.65,949.2 104.54,951.35 107.42,953.61 110.3,955.95 113.19,958.36 116.07,960.84 118.95,963.36 121.84,965.91 124.72,968.5 127.6,971.11 130.49,973.73 133.37,976.37 136.25,979 139.14,981.64 142.02,984.26 144.91,986.88 147.79,989.49 150.67,992.07 153.56,994.64 156.44,997.19 159.32,999.71 162.21,1002.21 165.09,1004.68 167.97,1007.13 170.86,1009.54 173.74,1011.92 176.63,1014.27 179.51,1016.59 182.39,1018.88 185.28,1021.13 188.16,1023.35 191.04,1025.54 193.93,1027.69 196.81,1029.8 199.69,1031.89 202.58,1033.94 205.46,1035.95 208.34,1037.94 211.23,1039.89 214.11,1041.8 217,1043.69 219.88,1045.54 222.76,1047.36 225.65,1049.14 228.53,1050.9 231.41,1052.62 234.3,1054.32 237.18,1055.98 240.06,1057.62 242.95,1059.23 245.83,1060.8 248.72,1062.35 251.6,1063.87 254.48,1065.37 257.37,1066.84 260.25,1068.28 263.13,1069.69 266.02,1071.08 268.9,1072.45 271.78,1073.79 274.67,1075.11 277.55,1076.4 280.43,1077.67 283.32,1078.92 286.2,1080.15 289.09,1081.36 291.97,1082.54 294.85,1083.7 297.74,1084.85 300.62,1085.97 303.5,1087.07 306.39,1088.16 309.27,1089.22 312.15,1090.27 315.04,1091.3 317.92,1092.31 320.81,1093.31 323.69,1094.28 326.57,1095.24 329.46,1096.19 332.34,1097.12 335.22,1098.03 338.11,1098.93 340.99,1099.81 343.87,1100.68 346.76,1101.54 349.64,1102.38 352.52,1103.21 355.41,1104.02 358.29,1104.82 361.18,1105.61 364.06,1106.38 366.94,1107.14 369.83,1107.89 372.71,1108.63 375.59,1109.36 378.48,1110.07 381.36,1110.78 384.24,1111.47 387.13,1112.15 390.01,1112.83 392.9,1113.49 395.78,1114.14 398.66,1114.78 401.55,1115.41 404.43,1116.04 407.31,1116.65 410.2,1117.25 413.08,1117.85 415.96,1118.43 418.85,1119.01 421.73,1119.58 424.61,1120.14 427.5,1120.69 430.38,1121.24 433.27,1121.77 436.15,1122.3 439.03,1122.82 441.92,1123.34 444.8,1123.84 447.68,1124.34 450.57,1124.83 453.45,1125.32 456.33,1125.8 459.22,1126.27 462.1,1126.74 464.99,1127.2 467.87,1127.65 470.75,1128.1 473.64,1128.54 476.52,1128.97 479.4,1129.4 482.29,1129.82 485.17,1130.24 488.05,1130.65 490.94,1131.06 493.82,1131.46 496.7,1131.86 499.59,1132.25 502.47,1132.63 505.36,1133.02 508.24,1133.39 511.12,1133.76 514.01,1134.13 516.89,1134.49" fill="none" stroke="#ff0000" stroke-width="2.2" stroke-opacity="0.68"/>
<polyline points="84.35,940.25 87.23,940.25 90.12,940.25 93,940.25 95.88,940.25 98.77,940.26 101.65,940.27 104.54,940.29 107.42,940.31 110.3,940.35 113.19,940.4 116.07,940.47 118.95,940.56 121.84,940.67 124.72,940.81 127.6,940.99 130.49,941.2 133.37,941.45 136.25,941.74 139.14,942.09 142.02,942.49 144.91,942.96 147.79,943.49 150.67,944.09 153.56,944.78 156.44,945.54 159.32,946.39 162.21,947.34 165.09,948.38 167.97,949.53 170.86,950.78 173.74,952.15 176.63,953.63 179.51,955.22 182.39,956.95 185.28,958.79 188.16,960.76 191.04,962.85 193.93,965.07 196.81,967.42 199.69,969.89 202.58,972.49 205.46,975.2 208.34,978.03 211.23,980.97 214.11,984.02 217,987.17 219.88,990.42 222.76,993.75 225.65,997.17 228.53,1000.66 231.41,1004.22 234.3,1007.83 237.18,1011.5 240.06,1015.2 242.95,1018.94 245.83,1022.7 248.72,1026.47 251.6,1030.25 254.48,1034.03 257.37,1037.8 260.25,1041.55 263.13,1045.28 266.02,1048.97 268.9,1052.63 271.78,1056.25 274.67,1059.82 277.55,1063.34 280.43,1066.8 283.32,1070.19 286.2,1073.53 289.09,1076.79 291.97,1079.99 294.85,1083.11 297.74,1086.16 300.62,1089.13 303.5,1092.03 306.39,1094.85 309.27,1097.6 312.15,1100.26 315.04,1102.86 317.92,1105.37 320.81,1107.81 323.69,1110.17 326.57,1112.47 329.46,1114.68 332.34,1116.83 335.22,1118.91 338.11,1120.92 340.99,1122.86 343.87,1124.74 346.76,1126.55 349.64,1128.3 352.52,1130 355.41,1131.63 358.29,1133.21 361.18,1134.73 364.06,1136.2 366.94,1137.61 369.83,1138.98 372.71,1140.3 375.59,1141.57 378.48,1142.8 381.36,1143.98 384.24,1145.12 387.13,1146.22 390.01,1147.28 392.9,1148.3 395.78,1149.29 398.66,1150.24 401.55,1151.16 404.43,1152.05 407.31,1152.9 410.2,1153.73 413.08,1154.52 415.96,1155.29 418.85,1156.03 421.73,1156.75 424.61,1157.44 427.5,1158.11 430.38,1158.75 433.27,1159.37 436.15,1159.97 439.03,1160.55 441.92,1161.11 444.8,1161.65 447.68,1162.17 450.57,1162.68 453.45,1163.16 456.33,1163.64 459.22,1164.09 462.1,1164.53 464.99,1164.96 467.87,1165.37 470.75,1165.77 473.64,1166.16 476.52,1166.53 479.4,1166.89 482.29,1167.24 485.17,1167.58 488.05,1167.91 490.94,1168.22 493.82,1168.53 496.7,1168.83 499.59,1169.12 502.47,1169.4 505.36,1169.67 508.24,1169.93 511.12,1170.18 514.01,1170.43 516.89,1170.67" fill="none" stroke="#0000ff" stroke-width="2.2" stroke-opacity="0.68"/>
<g opacity="0.8">
<line x1="300.62" y1="1139.57" x2="300.62" y2="1126.13" stroke="#b000e0" stroke-width="1.5" stroke-linecap="butt"/>
<line x1="294.42" y1="1126.13" x2="306.82" y2="1126.13" stroke="#b000e0" stroke-width="1.5" stroke-linecap="butt"/>
<line x1="294.42" y1="1139.57" x2="306.82" y2="1139.57" stroke="#b000e0" stroke-width="1.5" stroke-linecap="butt"/>
</g>
<polygon points="84.35,947.08 78.86,934.54 89.84,934.54" fill="#b000e0"/>
<polygon points="156.44,1086.19 150.95,1073.65 161.93,1073.65" fill="#b000e0"/>
<polygon points="228.53,1100.59 223.04,1088.04 234.02,1088.04" fill="#b000e0"/>
<polygon points="300.62,1139.68 295.13,1127.14 306.11,1127.14" fill="#b000e0"/>
<polygon points="372.71,1161.75 367.22,1149.2 378.2,1149.2" fill="#b000e0"/>
<polygon points="516.89,1168.46 511.4,1155.92 522.38,1155.92" fill="#b000e0"/>
<g opacity="0.8">
<line x1="156.44" y1="1032.11" x2="156.44" y2="1011.49" stroke="#00c000" stroke-width="1.5" stroke-linecap="butt"/>
<line x1="150.24" y1="1011.49" x2="162.64" y2="1011.49" stroke="#00c000" stroke-width="1.5" stroke-linecap="butt"/>
<line x1="150.24" y1="1032.11" x2="162.64" y2="1032.11" stroke="#00c000" stroke-width="1.5" stroke-linecap="butt"/>
</g>
<g opacity="0.8">
<line x1="228.53" y1="1032.83" x2="228.53" y2="1013.16" stroke="#00c000" stroke-width="1.5" stroke-linecap="butt"/>
<line x1="222.33" y1="1013.16" x2="234.73" y2="1013.16" stroke="#00c000" stroke-width="1.5" stroke-linecap="butt"/>
<line x1="222.33" y1="1032.83" x2="234.73" y2="1032.83" stroke="#00c000" stroke-width="1.5" stroke-linecap="butt"/>
</g>
<g opacity="0.8">
<line x1="300.62" y1="1040.27" x2="300.62" y2="1024.44" stroke="#00c000" stroke-width="1.5" stroke-linecap="butt"/>
<line x1="294.42" y1="1024.44" x2="306.82" y2="1024.44" stroke="#00c000" stroke-width="1.5" stroke-linecap="butt"/>
<line x1="294.42" y1="1040.27" x2="306.82" y2="1040.27" stroke="#00c000" stroke-width="1.5" stroke-linecap="butt"/>
</g>
<g opacity="0.8">
<line x1="372.71" y1="1078.64" x2="372.71" y2="1046.5" stroke="#00c000" stroke-width="1.5" stroke-linecap="butt"/>
<line x1="366.51" y1="1046.5" x2="378.91" y2="1046.5" stroke="#00c000" stroke-width="1.5" stroke-linecap="butt"/>
<line x1="366.51" y1="1078.64" x2="378.91" y2="1078.64" stroke="#00c000" stroke-width="1.5" stroke-linecap="butt"/>
</g>
<polygon points="84.35,933.31 78.75,946.07 89.95,946.07" fill="#00c000"/>
<polygon points="156.44,1014.86 150.84,1027.62 162.04,1027.62" fill="#00c000"/>
<polygon points="228.53,1016.05 222.93,1028.82 234.13,1028.82" fill="#00c000"/>
<polygon points="300.62,1025.41 295.02,1038.18 306.22,1038.18" fill="#00c000"/>
<polygon points="372.71,1055.63 367.11,1068.4 378.31,1068.4" fill="#00c000"/>
<polygon points="516.89,1129.02 511.29,1141.79 522.49,1141.79" fill="#00c000"/>
<rect x="78.75" y="934.65" width="11.2" height="11.2" fill="#ff0000"/>
<rect x="150.84" y="961.03" width="11.2" height="11.2" fill="#ff0000"/>
<rect x="222.93" y="1059.61" width="11.2" height="11.2" fill="#ff0000"/>
<rect x="295.02" y="1100.15" width="11.2" height="11.2" fill="#ff0000"/>
<rect x="367.11" y="1103.26" width="11.2" height="11.2" fill="#ff0000"/>
<rect x="511.29" y="1103.26" width="11.2" height="11.2" fill="#ff0000"/>
<g opacity="0.8">
<line x1="84.35" y1="951.52" x2="84.35" y2="928.98" stroke="#0000ff" stroke-width="1.5" stroke-linecap="butt"/>
<line x1="78.15" y1="928.98" x2="90.55" y2="928.98" stroke="#0000ff" stroke-width="1.5" stroke-linecap="butt"/>
<line x1="78.15" y1="951.52" x2="90.55" y2="951.52" stroke="#0000ff" stroke-width="1.5" stroke-linecap="butt"/>
</g>
<g opacity="0.8">
<line x1="156.44" y1="957.88" x2="156.44" y2="937.97" stroke="#0000ff" stroke-width="1.5" stroke-linecap="butt"/>
<line x1="150.24" y1="937.97" x2="162.64" y2="937.97" stroke="#0000ff" stroke-width="1.5" stroke-linecap="butt"/>
<line x1="150.24" y1="957.88" x2="162.64" y2="957.88" stroke="#0000ff" stroke-width="1.5" stroke-linecap="butt"/>
</g>
<g opacity="0.8">
<line x1="300.62" y1="1099.03" x2="300.62" y2="1079.84" stroke="#0000ff" stroke-width="1.5" stroke-linecap="butt"/>
<line x1="294.42" y1="1079.84" x2="306.82" y2="1079.84" stroke="#0000ff" stroke-width="1.5" stroke-linecap="butt"/>
<line x1="294.42" y1="1099.03" x2="306.82" y2="1099.03" stroke="#0000ff" stroke-width="1.5" stroke-linecap="butt"/>
</g>
<circle cx="84.35" cy="940.25" r="5.6" fill="#0000ff"/>
<circle cx="156.44" cy="947.93" r="5.6" fill="#0000ff"/>
<circle cx="228.53" cy="996.85" r="5.6" fill="#0000ff"/>
<circle cx="300.62" cy="1089.44" r="5.6" fill="#0000ff"/>
<circle cx="372.71" cy="1147.96" r="5.6" fill="#0000ff"/>
<circle cx="516.89" cy="1147.96" r="5.6" fill="#0000ff"/>
<line x1="84.35" y1="890.93" x2="84.35" y2="1192.3" stroke="#000" stroke-width="2.7" stroke-linecap="butt"/>
<line x1="72.35" y1="1180.1" x2="518.24" y2="1180.1" stroke="#000" stroke-width="2.7" stroke-linecap="butt"/>
<line x1="72.35" y1="1108.14" x2="84.35" y2="1108.14" stroke="#000" stroke-width="2.7" stroke-linecap="butt"/>
<text x="67.95" y="1115.24" font-size="20" font-weight="bold" text-anchor="end" fill="#000">30</text>
<line x1="72.35" y1="1036.19" x2="84.35" y2="1036.19" stroke="#000" stroke-width="2.7" stroke-linecap="butt"/>
<text x="67.95" y="1043.29" font-size="20" font-weight="bold" text-anchor="end" fill="#000">60</text>
<line x1="72.35" y1="964.23" x2="84.35" y2="964.23" stroke="#000" stroke-width="2.7" stroke-linecap="butt"/>
<text x="67.95" y="971.33" font-size="20" font-weight="bold" text-anchor="end" fill="#000">90</text>
<line x1="72.35" y1="892.28" x2="84.35" y2="892.28" stroke="#000" stroke-width="2.7" stroke-linecap="butt"/>
<text x="67.95" y="899.38" font-size="20" font-weight="bold" text-anchor="end" fill="#000">120</text>
<text x="67.95" y="1187.2" font-size="20" font-weight="bold" text-anchor="end" fill="#000">0</text>
<line x1="228.53" y1="1180.1" x2="228.53" y2="1192.3" stroke="#000" stroke-width="2.7" stroke-linecap="butt"/>
<line x1="372.71" y1="1180.1" x2="372.71" y2="1192.3" stroke="#000" stroke-width="2.7" stroke-linecap="butt"/>
<line x1="516.89" y1="1180.1" x2="516.89" y2="1192.3" stroke="#000" stroke-width="2.7" stroke-linecap="butt"/>
<text x="84.35" y="1215.5" font-size="20" font-weight="bold" text-anchor="middle" fill="#000">0</text>
<text x="228.53" y="1215.5" font-size="20" font-weight="bold" text-anchor="middle" fill="#000">1</text>
<text x="372.71" y="1215.5" font-size="20" font-weight="bold" text-anchor="middle" fill="#000">2</text>
<text x="516.89" y="1215.5" font-size="20" font-weight="bold" text-anchor="middle" fill="#000">3</text>
<text x="300.7" y="855.5" font-size="23.5" font-weight="bold" text-anchor="middle" fill="#000">AML2</text>
<text x="301.1" y="1245.1" font-size="19.4" text-anchor="middle" fill="#000"><tspan font-weight="bold">Conc.</tspan> (µM)</text>
<text transform="translate(23.7,1035.9) rotate(-90)" font-size="21.3" font-weight="bold" text-anchor="middle" fill="#000" textLength="162.5" lengthAdjust="spacing">Cell Viability (%)</text>
<line x1="417.4" y1="884.3" x2="449.4" y2="884.3" stroke="#0000ff" stroke-width="1.8" stroke-opacity="0.55"/>
<circle cx="433.3" cy="884.3" r="5.6" fill="#0000ff"/>
<text x="465.8" y="891.9" font-size="19" font-weight="normal" text-anchor="start" fill="#222" stroke="#222" stroke-width="0.25">SNG</text>
<line x1="417.4" y1="912.8" x2="449.4" y2="912.8" stroke="#ff0000" stroke-width="1.8" stroke-opacity="0.55"/>
<rect x="427.7" y="907.2" width="11.2" height="11.2" fill="#ff0000"/>
<text x="465.8" y="920.4" font-size="19" font-weight="normal" text-anchor="start" fill="#222" stroke="#222" stroke-width="0.25">CHE</text>
<line x1="417.4" y1="939.4" x2="449.4" y2="939.4" stroke="#00c000" stroke-width="1.8" stroke-opacity="0.55"/>
<polygon points="433.3,932.46 427.7,945.22 438.9,945.22" fill="#00c000"/>
<text x="465.8" y="947" font-size="19" font-weight="normal" text-anchor="start" fill="#222" stroke="#222" stroke-width="0.25">NTD</text>
<line x1="417.4" y1="966.8" x2="449.4" y2="966.8" stroke="#b000e0" stroke-width="1.8" stroke-opacity="0.55"/>
<polygon points="433.3,973.63 427.81,961.09 438.79,961.09" fill="#b000e0"/>
<text x="465.8" y="974.4" font-size="19" font-weight="normal" text-anchor="start" fill="#222" stroke="#222" stroke-width="0.25">6ME</text>
</g>
<g id="chart-aml3">
<polyline points="680.8,934.03 683.69,934.73 686.58,936.27 689.47,938.41 692.36,941.06 695.25,944.12 698.15,947.53 701.04,951.24 703.93,955.18 706.82,959.32 709.71,963.62 712.6,968.03 715.49,972.53 718.38,977.08 721.27,981.66 724.16,986.24 727.06,990.81 729.95,995.34 732.84,999.83 735.73,1004.27 738.62,1008.63 741.51,1012.91 744.4,1017.11 747.29,1021.22 750.18,1025.23 753.07,1029.15 755.97,1032.96 758.86,1036.67 761.75,1040.29 764.64,1043.8 767.53,1047.2 770.42,1050.51 773.31,1053.72 776.2,1056.83 779.09,1059.84 781.98,1062.76 784.88,1065.59 787.77,1068.33 790.66,1070.98 793.55,1073.55 796.44,1076.04 799.33,1078.44 802.22,1080.77 805.11,1083.02 808,1085.21 810.89,1087.32 813.79,1089.36 816.68,1091.34 819.57,1093.26 822.46,1095.11 825.35,1096.91 828.24,1098.65 831.13,1100.34 834.02,1101.97 836.91,1103.56 839.8,1105.09 842.7,1106.58 845.59,1108.02 848.48,1109.42 851.37,1110.78 854.26,1112.1 857.15,1113.37 860.04,1114.61 862.93,1115.82 865.82,1116.99 868.71,1118.12 871.61,1119.22 874.5,1120.3 877.39,1121.34 880.28,1122.35 883.17,1123.33 886.06,1124.29 888.95,1125.22 891.84,1126.12 894.73,1127 897.62,1127.86 900.52,1128.69 903.41,1129.5 906.3,1130.29 909.19,1131.06 912.08,1131.81 914.97,1132.54 917.86,1133.26 920.75,1133.95 923.64,1134.63 926.53,1135.29 929.43,1135.93 932.32,1136.56 935.21,1137.17 938.1,1137.77 940.99,1138.35 943.88,1138.92 946.77,1139.48 949.66,1140.02 952.55,1140.55 955.44,1141.07 958.34,1141.57 961.23,1142.07 964.12,1142.55 967.01,1143.02 969.9,1143.48 972.79,1143.93 975.68,1144.38 978.57,1144.81 981.46,1145.23 984.36,1145.64 987.25,1146.05 990.14,1146.44 993.03,1146.83 995.92,1147.21 998.81,1147.58 1001.7,1147.94 1004.59,1148.3 1007.48,1148.65 1010.37,1148.99 1013.26,1149.33 1016.16,1149.66 1019.05,1149.98 1021.94,1150.29 1024.83,1150.6 1027.72,1150.9 1030.61,1151.2 1033.5,1151.49 1036.39,1151.78 1039.28,1152.06 1042.17,1152.34 1045.07,1152.61 1047.96,1152.87 1050.85,1153.13 1053.74,1153.39 1056.63,1153.64 1059.52,1153.88 1062.41,1154.12 1065.3,1154.36 1068.19,1154.59 1071.09,1154.82 1073.98,1155.05 1076.87,1155.27 1079.76,1155.49 1082.65,1155.7 1085.54,1155.91 1088.43,1156.12 1091.32,1156.32 1094.21,1156.52 1097.1,1156.71 1099.99,1156.91 1102.89,1157.1 1105.78,1157.28 1108.67,1157.46 1111.56,1157.64 1114.45,1157.82" fill="none" stroke="#b000e0" stroke-width="2.2" stroke-opacity="0.68"/>
<polyline points="680.8,934.03 683.69,945.01 686.58,954.41 689.47,962.88 692.36,970.59 695.25,977.69 698.15,984.24 701.04,990.33 703.93,996 706.82,1001.31 709.71,1006.28 712.6,1010.95 715.49,1015.36 718.38,1019.51 721.27,1023.44 724.16,1027.17 727.06,1030.7 729.95,1034.06 732.84,1037.26 735.73,1040.31 738.62,1043.22 741.51,1046 744.4,1048.66 747.29,1051.2 750.18,1053.64 753.07,1055.98 755.97,1058.23 758.86,1060.39 761.75,1062.47 764.64,1064.47 767.53,1066.4 770.42,1068.25 773.31,1070.05 776.2,1071.78 779.09,1073.45 781.98,1075.07 784.88,1076.63 787.77,1078.14 790.66,1079.61 793.55,1081.03 796.44,1082.41 799.33,1083.74 802.22,1085.04 805.11,1086.3 808,1087.52 810.89,1088.7 813.79,1089.86 816.68,1090.98 819.57,1092.07 822.46,1093.14 825.35,1094.17 828.24,1095.18 831.13,1096.16 834.02,1097.12 836.91,1098.05 839.8,1098.96 842.7,1099.85 845.59,1100.72 848.48,1101.56 851.37,1102.39 854.26,1103.2 857.15,1103.99 860.04,1104.76 862.93,1105.51 865.82,1106.25 868.71,1106.97 871.61,1107.68 874.5,1108.37 877.39,1109.05 880.28,1109.71 883.17,1110.36 886.06,1110.99 888.95,1111.61 891.84,1112.22 894.73,1112.82 897.62,1113.41 900.52,1113.98 903.41,1114.55 906.3,1115.1 909.19,1115.64 912.08,1116.18 914.97,1116.7 917.86,1117.21 920.75,1117.72 923.64,1118.21 926.53,1118.7 929.43,1119.17 932.32,1119.64 935.21,1120.1 938.1,1120.56 940.99,1121 943.88,1121.44 946.77,1121.87 949.66,1122.29 952.55,1122.71 955.44,1123.12 958.34,1123.52 961.23,1123.92 964.12,1124.31 967.01,1124.7 969.9,1125.07 972.79,1125.45 975.68,1125.81 978.57,1126.18 981.46,1126.53 984.36,1126.88 987.25,1127.23 990.14,1127.57 993.03,1127.9 995.92,1128.23 998.81,1128.56 1001.7,1128.88 1004.59,1129.19 1007.48,1129.51 1010.37,1129.81 1013.26,1130.12 1016.16,1130.42 1019.05,1130.71 1021.94,1131 1024.83,1131.29 1027.72,1131.57 1030.61,1131.85 1033.5,1132.13 1036.39,1132.4 1039.28,1132.67 1042.17,1132.93 1045.07,1133.19 1047.96,1133.45 1050.85,1133.71 1053.74,1133.96 1056.63,1134.21 1059.52,1134.45 1062.41,1134.69 1065.3,1134.93 1068.19,1135.17 1071.09,1135.4 1073.98,1135.63 1076.87,1135.86 1079.76,1136.09 1082.65,1136.31 1085.54,1136.53 1088.43,1136.75 1091.32,1136.96 1094.21,1137.17 1097.1,1137.38 1099.99,1137.59 1102.89,1137.8 1105.78,1138 1108.67,1138.2 1111.56,1138.4 1114.45,1138.59" fill="none" stroke="#00c000" stroke-width="2.2" stroke-opacity="0.68"/>
<polyline points="680.8,934.03 683.69,934.03 686.58,934.05 689.47,934.08 692.36,934.13 695.25,934.2 698.15,934.29 701.04,934.41 703.93,934.54 706.82,934.71 709.71,934.9 712.6,935.11 715.49,935.36 718.38,935.63 721.27,935.93 724.16,936.26 727.06,936.62 729.95,937.01 732.84,937.44 735.73,937.89 738.62,938.38 741.51,938.9 744.4,939.45 747.29,940.03 750.18,940.64 753.07,941.29 755.97,941.96 758.86,942.67 761.75,943.41 764.64,944.19 767.53,944.99 770.42,945.82 773.31,946.69 776.2,947.59 779.09,948.51 781.98,949.47 784.88,950.45 787.77,951.46 790.66,952.51 793.55,953.57 796.44,954.67 799.33,955.79 802.22,956.94 805.11,958.11 808,959.31 810.89,960.53 813.79,961.77 816.68,963.03 819.57,964.32 822.46,965.63 825.35,966.95 828.24,968.3 831.13,969.66 834.02,971.04 836.91,972.44 839.8,973.85 842.7,975.28 845.59,976.72 848.48,978.17 851.37,979.64 854.26,981.12 857.15,982.61 860.04,984.1 862.93,985.61 865.82,987.13 868.71,988.65 871.61,990.18 874.5,991.72 877.39,993.26 880.28,994.8 883.17,996.35 886.06,997.9 888.95,999.46 891.84,1001.01 894.73,1002.57 897.62,1004.12 900.52,1005.68 903.41,1007.24 906.3,1008.79 909.19,1010.34 912.08,1011.89 914.97,1013.44 917.86,1014.98 920.75,1016.52 923.64,1018.05 926.53,1019.57 929.43,1021.1 932.32,1022.61 935.21,1024.12 938.1,1025.62 940.99,1027.12 943.88,1028.6 946.77,1030.08 949.66,1031.55 952.55,1033.01 955.44,1034.46 958.34,1035.91 961.23,1037.34 964.12,1038.76 967.01,1040.18 969.9,1041.58 972.79,1042.97 975.68,1044.36 978.57,1045.73 981.46,1047.09 984.36,1048.44 987.25,1049.77 990.14,1051.1 993.03,1052.41 995.92,1053.72 998.81,1055.01 1001.7,1056.29 1004.59,1057.56 1007.48,1058.81 1010.37,1060.06 1013.26,1061.29 1016.16,1062.51 1019.05,1063.71 1021.94,1064.91 1024.83,1066.09 1027.72,1067.26 1030.61,1068.42 1033.5,1069.57 1036.39,1070.7 1039.28,1071.82 1042.17,1072.93 1045.07,1074.03 1047.96,1075.12 1050.85,1076.19 1053.74,1077.26 1056.63,1078.31 1059.52,1079.34 1062.41,1080.37 1065.3,1081.39 1068.19,1082.39 1071.09,1083.38 1073.98,1084.36 1076.87,1085.33 1079.76,1086.29 1082.65,1087.24 1085.54,1088.17 1088.43,1089.1 1091.32,1090.01 1094.21,1090.92 1097.1,1091.81 1099.99,1092.69 1102.89,1093.56 1105.78,1094.42 1108.67,1095.27 1111.56,1096.11 1114.45,1096.94" fill="none" stroke="#ff0000" stroke-width="2.2" stroke-opacity="0.68"/>
<polyline points="680.8,934.03 683.69,934.22 686.58,934.69 689.47,935.4 692.36,936.33 695.25,937.47 698.15,938.79 701.04,940.29 703.93,941.95 706.82,943.77 709.71,945.72 712.6,947.81 715.49,950.01 718.38,952.32 721.27,954.73 724.16,957.23 727.06,959.81 729.95,962.46 732.84,965.17 735.73,967.93 738.62,970.73 741.51,973.58 744.4,976.45 747.29,979.35 750.18,982.26 753.07,985.18 755.97,988.11 758.86,991.04 761.75,993.97 764.64,996.88 767.53,999.79 770.42,1002.67 773.31,1005.54 776.2,1008.38 779.09,1011.19 781.98,1013.98 784.88,1016.74 787.77,1019.46 790.66,1022.15 793.55,1024.8 796.44,1027.42 799.33,1029.99 802.22,1032.53 805.11,1035.03 808,1037.48 810.89,1039.9 813.79,1042.27 816.68,1044.6 819.57,1046.89 822.46,1049.14 825.35,1051.35 828.24,1053.51 831.13,1055.63 834.02,1057.72 836.91,1059.76 839.8,1061.76 842.7,1063.72 845.59,1065.64 848.48,1067.52 851.37,1069.36 854.26,1071.17 857.15,1072.94 860.04,1074.67 862.93,1076.36 865.82,1078.02 868.71,1079.65 871.61,1081.24 874.5,1082.79 877.39,1084.32 880.28,1085.81 883.17,1087.27 886.06,1088.7 888.95,1090.1 891.84,1091.47 894.73,1092.81 897.62,1094.12 900.52,1095.41 903.41,1096.67 906.3,1097.9 909.19,1099.1 912.08,1100.28 914.97,1101.44 917.86,1102.57 920.75,1103.68 923.64,1104.76 926.53,1105.82 929.43,1106.86 932.32,1107.88 935.21,1108.88 938.1,1109.86 940.99,1110.81 943.88,1111.75 946.77,1112.67 949.66,1113.57 952.55,1114.45 955.44,1115.32 958.34,1116.16 961.23,1116.99 964.12,1117.81 967.01,1118.61 969.9,1119.39 972.79,1120.15 975.68,1120.9 978.57,1121.64 981.46,1122.36 984.36,1123.07 987.25,1123.77 990.14,1124.45 993.03,1125.12 995.92,1125.77 998.81,1126.42 1001.7,1127.05 1004.59,1127.67 1007.48,1128.28 1010.37,1128.87 1013.26,1129.46 1016.16,1130.04 1019.05,1130.6 1021.94,1131.15 1024.83,1131.7 1027.72,1132.23 1030.61,1132.76 1033.5,1133.27 1036.39,1133.78 1039.28,1134.28 1042.17,1134.76 1045.07,1135.24 1047.96,1135.72 1050.85,1136.18 1053.74,1136.63 1056.63,1137.08 1059.52,1137.52 1062.41,1137.95 1065.3,1138.38 1068.19,1138.8 1071.09,1139.21 1073.98,1139.61 1076.87,1140.01 1079.76,1140.4 1082.65,1140.78 1085.54,1141.16 1088.43,1141.53 1091.32,1141.9 1094.21,1142.26 1097.1,1142.61 1099.99,1142.96 1102.89,1143.3 1105.78,1143.64 1108.67,1143.97 1111.56,1144.3 1114.45,1144.62" fill="none" stroke="#0000ff" stroke-width="2.2" stroke-opacity="0.68"/>
<polygon points="680.8,940.86 675.31,928.32 686.29,928.32" fill="#b000e0"/>
<polygon points="825.35,1096.09 819.86,1083.55 830.84,1083.55" fill="#b000e0"/>
<polygon points="897.62,1145.67 892.14,1133.13 903.11,1133.13" fill="#b000e0"/>
<polygon points="969.9,1150.73 964.41,1138.18 975.39,1138.18" fill="#b000e0"/>
<polygon points="1042.17,1153.61 1036.69,1141.07 1047.66,1141.07" fill="#b000e0"/>
<polygon points="1114.45,1156.26 1108.96,1143.72 1119.94,1143.72" fill="#b000e0"/>
<polygon points="680.8,927.09 675.2,939.85 686.4,939.85" fill="#00c000"/>
<polygon points="825.35,1084 819.75,1096.77 830.95,1096.77" fill="#00c000"/>
<polygon points="897.62,1112.88 892.02,1125.65 903.23,1125.65" fill="#00c000"/>
<polygon points="969.9,1123.71 964.3,1136.48 975.5,1136.48" fill="#00c000"/>
<polygon points="1042.17,1125.4 1036.58,1138.17 1047.77,1138.17" fill="#00c000"/>
<polygon points="1114.45,1126.36 1108.85,1139.13 1120.05,1139.13" fill="#00c000"/>
<g opacity="0.8">
<line x1="897.62" y1="1011.29" x2="897.62" y2="995.4" stroke="#ff0000" stroke-width="1.5" stroke-linecap="butt"/>
<line x1="891.42" y1="995.4" x2="903.83" y2="995.4" stroke="#ff0000" stroke-width="1.5" stroke-linecap="butt"/>
<line x1="891.42" y1="1011.29" x2="903.83" y2="1011.29" stroke="#ff0000" stroke-width="1.5" stroke-linecap="butt"/>
</g>
<rect x="675.2" y="928.43" width="11.2" height="11.2" fill="#ff0000"/>
<rect x="819.75" y="933.48" width="11.2" height="11.2" fill="#ff0000"/>
<rect x="892.02" y="997.74" width="11.2" height="11.2" fill="#ff0000"/>
<rect x="964.3" y="1064.65" width="11.2" height="11.2" fill="#ff0000"/>
<rect x="1036.58" y="1068.26" width="11.2" height="11.2" fill="#ff0000"/>
<rect x="1108.85" y="1071.87" width="11.2" height="11.2" fill="#ff0000"/>
<g opacity="0.8">
<line x1="897.62" y1="1093.35" x2="897.62" y2="1077.95" stroke="#0000ff" stroke-width="1.5" stroke-linecap="butt"/>
<line x1="891.42" y1="1077.95" x2="903.83" y2="1077.95" stroke="#0000ff" stroke-width="1.5" stroke-linecap="butt"/>
<line x1="891.42" y1="1093.35" x2="903.83" y2="1093.35" stroke="#0000ff" stroke-width="1.5" stroke-linecap="butt"/>
</g>
<circle cx="680.8" cy="934.03" r="5.6" fill="#0000ff"/>
<circle cx="825.35" cy="1053.4" r="5.6" fill="#0000ff"/>
<circle cx="897.62" cy="1085.65" r="5.6" fill="#0000ff"/>
<circle cx="969.9" cy="1132.82" r="5.6" fill="#0000ff"/>
<circle cx="1042.17" cy="1136.43" r="5.6" fill="#0000ff"/>
<circle cx="1114.45" cy="1137.4" r="5.6" fill="#0000ff"/>
<line x1="680.8" y1="884.55" x2="680.8" y2="1186.9" stroke="#000" stroke-width="2.7" stroke-linecap="butt"/>
<line x1="668.8" y1="1174.7" x2="1115.8" y2="1174.7" stroke="#000" stroke-width="2.7" stroke-linecap="butt"/>
<line x1="668.8" y1="1102.5" x2="680.8" y2="1102.5" stroke="#000" stroke-width="2.7" stroke-linecap="butt"/>
<text x="664.4" y="1109.6" font-size="20" font-weight="bold" text-anchor="end" fill="#000">30</text>
<line x1="668.8" y1="1030.3" x2="680.8" y2="1030.3" stroke="#000" stroke-width="2.7" stroke-linecap="butt"/>
<text x="664.4" y="1037.4" font-size="20" font-weight="bold" text-anchor="end" fill="#000">60</text>
<line x1="668.8" y1="958.1" x2="680.8" y2="958.1" stroke="#000" stroke-width="2.7" stroke-linecap="butt"/>
<text x="664.4" y="965.2" font-size="20" font-weight="bold" text-anchor="end" fill="#000">90</text>
<line x1="668.8" y1="885.9" x2="680.8" y2="885.9" stroke="#000" stroke-width="2.7" stroke-linecap="butt"/>
<text x="664.4" y="893" font-size="20" font-weight="bold" text-anchor="end" fill="#000">120</text>
<text x="664.4" y="1181.8" font-size="20" font-weight="bold" text-anchor="end" fill="#000">0</text>
<line x1="825.35" y1="1174.7" x2="825.35" y2="1186.9" stroke="#000" stroke-width="2.7" stroke-linecap="butt"/>
<line x1="969.9" y1="1174.7" x2="969.9" y2="1186.9" stroke="#000" stroke-width="2.7" stroke-linecap="butt"/>
<line x1="1114.45" y1="1174.7" x2="1114.45" y2="1186.9" stroke="#000" stroke-width="2.7" stroke-linecap="butt"/>
<text x="680.8" y="1210.1" font-size="20" font-weight="bold" text-anchor="middle" fill="#000">0</text>
<text x="825.35" y="1210.1" font-size="20" font-weight="bold" text-anchor="middle" fill="#000">1</text>
<text x="969.9" y="1210.1" font-size="20" font-weight="bold" text-anchor="middle" fill="#000">2</text>
<text x="1114.45" y="1210.1" font-size="20" font-weight="bold" text-anchor="middle" fill="#000">3</text>
<text x="897.5" y="852" font-size="23.5" font-weight="bold" text-anchor="middle" fill="#000">AML3</text>
<text x="897.6" y="1239.7" font-size="19.4" text-anchor="middle" fill="#000"><tspan font-weight="bold">Conc.</tspan> (µM)</text>
<text transform="translate(618.7,1031.9) rotate(-90)" font-size="19.5" font-weight="bold" text-anchor="middle" fill="#000" textLength="148" lengthAdjust="spacing">Cell Viability (%)</text>
<line x1="1044.3" y1="869.9" x2="1076" y2="869.9" stroke="#0000ff" stroke-width="1.8" stroke-opacity="0.55"/>
<circle cx="1060.1" cy="869.9" r="5.6" fill="#0000ff"/>
<text x="1092.8" y="876.9" font-size="19" font-weight="normal" text-anchor="start" fill="#222" stroke="#222" stroke-width="0.25">SNG</text>
<line x1="1044.3" y1="904" x2="1076" y2="904" stroke="#ff0000" stroke-width="1.8" stroke-opacity="0.55"/>
<rect x="1054.5" y="898.4" width="11.2" height="11.2" fill="#ff0000"/>
<text x="1092.8" y="911" font-size="19" font-weight="normal" text-anchor="start" fill="#222" stroke="#222" stroke-width="0.25">CHE</text>
<line x1="1044.3" y1="939" x2="1076" y2="939" stroke="#00c000" stroke-width="1.8" stroke-opacity="0.55"/>
<polygon points="1060.1,932.06 1054.5,944.82 1065.7,944.82" fill="#00c000"/>
<text x="1092.8" y="946" font-size="19" font-weight="normal" text-anchor="start" fill="#222" stroke="#222" stroke-width="0.25">NTD</text>
<line x1="1044.3" y1="973.1" x2="1076" y2="973.1" stroke="#b000e0" stroke-width="1.8" stroke-opacity="0.55"/>
<polygon points="1060.1,979.93 1054.61,967.39 1065.59,967.39" fill="#b000e0"/>
<text x="1092.8" y="980.1" font-size="19" font-weight="normal" text-anchor="start" fill="#222" stroke="#222" stroke-width="0.25">6ME</text>
</g>
<g id="chart-tex">
<polyline points="1278.8,934.3 1281.71,934.3 1284.62,934.3 1287.54,934.3 1290.45,934.3 1293.36,934.3 1296.27,934.31 1299.18,934.32 1302.1,934.34 1305.01,934.36 1307.92,934.39 1310.83,934.44 1313.74,934.51 1316.66,934.6 1319.57,934.71 1322.48,934.86 1325.39,935.05 1328.3,935.27 1331.22,935.55 1334.13,935.88 1337.04,936.28 1339.95,936.75 1342.86,937.3 1345.78,937.94 1348.69,938.67 1351.6,939.51 1354.51,940.47 1357.42,941.55 1360.34,942.76 1363.25,944.12 1366.16,945.62 1369.07,947.29 1371.98,949.11 1374.9,951.11 1377.81,953.29 1380.72,955.64 1383.63,958.18 1386.54,960.9 1389.46,963.81 1392.37,966.9 1395.28,970.18 1398.19,973.62 1401.1,977.24 1404.02,981.02 1406.93,984.95 1409.84,989.02 1412.75,993.22 1415.66,997.54 1418.58,1001.96 1421.49,1006.47 1424.4,1011.05 1427.31,1015.68 1430.22,1020.36 1433.14,1025.06 1436.05,1029.77 1438.96,1034.47 1441.87,1039.15 1444.78,1043.79 1447.7,1048.39 1450.61,1052.93 1453.52,1057.4 1456.43,1061.79 1459.34,1066.09 1462.26,1070.3 1465.17,1074.4 1468.08,1078.39 1470.99,1082.28 1473.9,1086.05 1476.82,1089.7 1479.73,1093.23 1482.64,1096.64 1485.55,1099.93 1488.46,1103.1 1491.38,1106.16 1494.29,1109.09 1497.2,1111.92 1500.11,1114.62 1503.02,1117.22 1505.94,1119.71 1508.85,1122.1 1511.76,1124.38 1514.67,1126.57 1517.58,1128.66 1520.5,1130.66 1523.41,1132.57 1526.32,1134.39 1529.23,1136.14 1532.14,1137.81 1535.06,1139.4 1537.97,1140.92 1540.88,1142.37 1543.79,1143.75 1546.7,1145.07 1549.62,1146.34 1552.53,1147.54 1555.44,1148.69 1558.35,1149.79 1561.26,1150.84 1564.18,1151.84 1567.09,1152.79 1570,1153.71 1572.91,1154.58 1575.82,1155.41 1578.74,1156.21 1581.65,1156.97 1584.56,1157.7 1587.47,1158.39 1590.38,1159.06 1593.3,1159.69 1596.21,1160.3 1599.12,1160.88 1602.03,1161.44 1604.94,1161.97 1607.86,1162.48 1610.77,1162.97 1613.68,1163.43 1616.59,1163.88 1619.5,1164.31 1622.42,1164.72 1625.33,1165.12 1628.24,1165.5 1631.15,1165.86 1634.06,1166.21 1636.98,1166.54 1639.89,1166.86 1642.8,1167.17 1645.71,1167.46 1648.62,1167.75 1651.54,1168.02 1654.45,1168.28 1657.36,1168.53 1660.27,1168.77 1663.18,1169.01 1666.1,1169.23 1669.01,1169.44 1671.92,1169.65 1674.83,1169.85 1677.74,1170.04 1680.66,1170.23 1683.57,1170.4 1686.48,1170.58 1689.39,1170.74 1692.3,1170.9 1695.22,1171.05 1698.13,1171.2 1701.04,1171.34 1703.95,1171.48 1706.86,1171.61 1709.78,1171.74 1712.69,1171.87 1715.6,1171.98" fill="none" stroke="#b000e0" stroke-width="2.2" stroke-opacity="0.68"/>
<polyline points="1278.8,934.3 1281.71,939.4 1284.62,943.1 1287.54,946.35 1290.45,949.32 1293.36,952.08 1296.27,954.67 1299.18,957.12 1302.1,959.45 1305.01,961.69 1307.92,963.83 1310.83,965.89 1313.74,967.87 1316.66,969.79 1319.57,971.65 1322.48,973.45 1325.39,975.19 1328.3,976.89 1331.22,978.54 1334.13,980.14 1337.04,981.71 1339.95,983.23 1342.86,984.72 1345.78,986.17 1348.69,987.59 1351.6,988.98 1354.51,990.33 1357.42,991.66 1360.34,992.96 1363.25,994.23 1366.16,995.47 1369.07,996.7 1371.98,997.89 1374.9,999.07 1377.81,1000.22 1380.72,1001.35 1383.63,1002.47 1386.54,1003.56 1389.46,1004.63 1392.37,1005.68 1395.28,1006.72 1398.19,1007.74 1401.1,1008.74 1404.02,1009.72 1406.93,1010.69 1409.84,1011.65 1412.75,1012.59 1415.66,1013.51 1418.58,1014.42 1421.49,1015.32 1424.4,1016.2 1427.31,1017.08 1430.22,1017.93 1433.14,1018.78 1436.05,1019.61 1438.96,1020.44 1441.87,1021.25 1444.78,1022.05 1447.7,1022.84 1450.61,1023.61 1453.52,1024.38 1456.43,1025.14 1459.34,1025.89 1462.26,1026.63 1465.17,1027.36 1468.08,1028.08 1470.99,1028.79 1473.9,1029.49 1476.82,1030.18 1479.73,1030.87 1482.64,1031.54 1485.55,1032.21 1488.46,1032.87 1491.38,1033.53 1494.29,1034.17 1497.2,1034.81 1500.11,1035.44 1503.02,1036.06 1505.94,1036.68 1508.85,1037.29 1511.76,1037.89 1514.67,1038.49 1517.58,1039.08 1520.5,1039.66 1523.41,1040.24 1526.32,1040.81 1529.23,1041.37 1532.14,1041.93 1535.06,1042.49 1537.97,1043.03 1540.88,1043.57 1543.79,1044.11 1546.7,1044.64 1549.62,1045.17 1552.53,1045.69 1555.44,1046.2 1558.35,1046.71 1561.26,1047.22 1564.18,1047.72 1567.09,1048.21 1570,1048.7 1572.91,1049.19 1575.82,1049.67 1578.74,1050.15 1581.65,1050.62 1584.56,1051.09 1587.47,1051.55 1590.38,1052.01 1593.3,1052.46 1596.21,1052.92 1599.12,1053.36 1602.03,1053.81 1604.94,1054.24 1607.86,1054.68 1610.77,1055.11 1613.68,1055.54 1616.59,1055.96 1619.5,1056.38 1622.42,1056.8 1625.33,1057.21 1628.24,1057.62 1631.15,1058.03 1634.06,1058.43 1636.98,1058.83 1639.89,1059.23 1642.8,1059.62 1645.71,1060.01 1648.62,1060.39 1651.54,1060.78 1654.45,1061.16 1657.36,1061.53 1660.27,1061.91 1663.18,1062.28 1666.1,1062.65 1669.01,1063.01 1671.92,1063.38 1674.83,1063.73 1677.74,1064.09 1680.66,1064.45 1683.57,1064.8 1686.48,1065.15 1689.39,1065.49 1692.3,1065.83 1695.22,1066.18 1698.13,1066.51 1701.04,1066.85 1703.95,1067.18 1706.86,1067.51 1709.78,1067.84 1712.69,1068.17 1715.6,1068.49" fill="none" stroke="#00c000" stroke-width="2.2" stroke-opacity="0.68"/>
<polyline points="1278.8,934.3 1281.71,934.3 1284.62,934.3 1287.54,934.3 1290.45,934.3 1293.36,934.3 1296.27,934.3 1299.18,934.3 1302.1,934.3 1305.01,934.3 1307.92,934.3 1310.83,934.3 1313.74,934.3 1316.66,934.3 1319.57,934.3 1322.48,934.3 1325.39,934.3 1328.3,934.3 1331.22,934.3 1334.13,934.3 1337.04,934.31 1339.95,934.31 1342.86,934.31 1345.78,934.31 1348.69,934.32 1351.6,934.32 1354.51,934.32 1357.42,934.33 1360.34,934.33 1363.25,934.34 1366.16,934.35 1369.07,934.36 1371.98,934.37 1374.9,934.38 1377.81,934.39 1380.72,934.4 1383.63,934.42 1386.54,934.44 1389.46,934.45 1392.37,934.48 1395.28,934.5 1398.19,934.53 1401.1,934.55 1404.02,934.59 1406.93,934.62 1409.84,934.66 1412.75,934.7 1415.66,934.75 1418.58,934.8 1421.49,934.85 1424.4,934.91 1427.31,934.97 1430.22,935.04 1433.14,935.11 1436.05,935.19 1438.96,935.28 1441.87,935.37 1444.78,935.47 1447.7,935.58 1450.61,935.69 1453.52,935.81 1456.43,935.94 1459.34,936.08 1462.26,936.22 1465.17,936.38 1468.08,936.54 1470.99,936.72 1473.9,936.91 1476.82,937.11 1479.73,937.32 1482.64,937.54 1485.55,937.77 1488.46,938.02 1491.38,938.28 1494.29,938.56 1497.2,938.85 1500.11,939.15 1503.02,939.47 1505.94,939.81 1508.85,940.16 1511.76,940.53 1514.67,940.92 1517.58,941.33 1520.5,941.76 1523.41,942.2 1526.32,942.67 1529.23,943.15 1532.14,943.66 1535.06,944.18 1537.97,944.73 1540.88,945.31 1543.79,945.9 1546.7,946.52 1549.62,947.16 1552.53,947.83 1555.44,948.52 1558.35,949.24 1561.26,949.98 1564.18,950.75 1567.09,951.55 1570,952.37 1572.91,953.22 1575.82,954.1 1578.74,955 1581.65,955.93 1584.56,956.9 1587.47,957.89 1590.38,958.9 1593.3,959.95 1596.21,961.03 1599.12,962.13 1602.03,963.27 1604.94,964.43 1607.86,965.62 1610.77,966.84 1613.68,968.09 1616.59,969.37 1619.5,970.67 1622.42,972.01 1625.33,973.37 1628.24,974.76 1631.15,976.18 1634.06,977.62 1636.98,979.09 1639.89,980.59 1642.8,982.11 1645.71,983.66 1648.62,985.23 1651.54,986.82 1654.45,988.44 1657.36,990.08 1660.27,991.74 1663.18,993.42 1666.1,995.12 1669.01,996.85 1671.92,998.58 1674.83,1000.34 1677.74,1002.11 1680.66,1003.9 1683.57,1005.7 1686.48,1007.52 1689.39,1009.35 1692.3,1011.19 1695.22,1013.04 1698.13,1014.9 1701.04,1016.77 1703.95,1018.65 1706.86,1020.53 1709.78,1022.42 1712.69,1024.32 1715.6,1026.22" fill="none" stroke="#ff0000" stroke-width="2.2" stroke-opacity="0.68"/>
<polyline points="1278.8,934.3 1281.71,934.3 1284.62,934.3 1287.54,934.3 1290.45,934.3 1293.36,934.3 1296.27,934.3 1299.18,934.3 1302.1,934.3 1305.01,934.3 1307.92,934.3 1310.83,934.3 1313.74,934.3 1316.66,934.3 1319.57,934.3 1322.48,934.3 1325.39,934.31 1328.3,934.31 1331.22,934.31 1334.13,934.32 1337.04,934.32 1339.95,934.33 1342.86,934.33 1345.78,934.34 1348.69,934.36 1351.6,934.37 1354.51,934.39 1357.42,934.41 1360.34,934.43 1363.25,934.46 1366.16,934.49 1369.07,934.53 1371.98,934.58 1374.9,934.63 1377.81,934.69 1380.72,934.75 1383.63,934.83 1386.54,934.92 1389.46,935.02 1392.37,935.13 1395.28,935.25 1398.19,935.39 1401.1,935.55 1404.02,935.72 1406.93,935.91 1409.84,936.13 1412.75,936.36 1415.66,936.62 1418.58,936.91 1421.49,937.22 1424.4,937.56 1427.31,937.94 1430.22,938.34 1433.14,938.79 1436.05,939.27 1438.96,939.79 1441.87,940.35 1444.78,940.96 1447.7,941.62 1450.61,942.32 1453.52,943.08 1456.43,943.89 1459.34,944.76 1462.26,945.69 1465.17,946.68 1468.08,947.73 1470.99,948.85 1473.9,950.03 1476.82,951.29 1479.73,952.62 1482.64,954.02 1485.55,955.49 1488.46,957.05 1491.38,958.68 1494.29,960.39 1497.2,962.17 1500.11,964.04 1503.02,965.99 1505.94,968.02 1508.85,970.13 1511.76,972.31 1514.67,974.58 1517.58,976.92 1520.5,979.34 1523.41,981.83 1526.32,984.39 1529.23,987.03 1532.14,989.72 1535.06,992.48 1537.97,995.31 1540.88,998.18 1543.79,1001.11 1546.7,1004.09 1549.62,1007.11 1552.53,1010.17 1555.44,1013.27 1558.35,1016.39 1561.26,1019.55 1564.18,1022.72 1567.09,1025.91 1570,1029.11 1572.91,1032.31 1575.82,1035.52 1578.74,1038.73 1581.65,1041.92 1584.56,1045.11 1587.47,1048.28 1590.38,1051.43 1593.3,1054.55 1596.21,1057.65 1599.12,1060.72 1602.03,1063.75 1604.94,1066.74 1607.86,1069.69 1610.77,1072.6 1613.68,1075.46 1616.59,1078.28 1619.5,1081.04 1622.42,1083.76 1625.33,1086.42 1628.24,1089.03 1631.15,1091.58 1634.06,1094.08 1636.98,1096.52 1639.89,1098.9 1642.8,1101.23 1645.71,1103.5 1648.62,1105.71 1651.54,1107.87 1654.45,1109.96 1657.36,1112.01 1660.27,1113.99 1663.18,1115.92 1666.1,1117.8 1669.01,1119.62 1671.92,1121.39 1674.83,1123.1 1677.74,1124.77 1680.66,1126.38 1683.57,1127.95 1686.48,1129.47 1689.39,1130.94 1692.3,1132.36 1695.22,1133.74 1698.13,1135.08 1701.04,1136.37 1703.95,1137.62 1706.86,1138.83 1709.78,1140 1712.69,1141.14 1715.6,1142.23" fill="none" stroke="#0000ff" stroke-width="2.2" stroke-opacity="0.68"/>
<polygon points="1278.8,941.13 1273.31,928.59 1284.29,928.59" fill="#b000e0"/>
<polygon points="1424.4,1011.24 1418.91,998.7 1429.89,998.7" fill="#b000e0"/>
<polygon points="1497.2,1133.08 1491.71,1120.54 1502.69,1120.54" fill="#b000e0"/>
<polygon points="1570,1145.65 1564.51,1133.11 1575.49,1133.11" fill="#b000e0"/>
<polygon points="1642.8,1162.82 1637.31,1150.27 1648.29,1150.27" fill="#b000e0"/>
<polygon points="1715.6,1167.89 1710.11,1155.35 1721.09,1155.35" fill="#b000e0"/>
<polygon points="1278.8,927.36 1273.2,940.12 1284.4,940.12" fill="#00c000"/>
<polygon points="1424.4,1018.25 1418.8,1031.02 1430,1031.02" fill="#00c000"/>
<polygon points="1497.2,1024.06 1491.6,1036.82 1502.8,1036.82" fill="#00c000"/>
<polygon points="1570,1035.42 1564.4,1048.19 1575.6,1048.19" fill="#00c000"/>
<polygon points="1642.8,1048.47 1637.2,1061.24 1648.4,1061.24" fill="#00c000"/>
<polygon points="1715.6,1073.37 1710,1086.14 1721.2,1086.14" fill="#00c000"/>
<g opacity="0.8">
<line x1="1497.2" y1="935.99" x2="1497.2" y2="916.65" stroke="#ff0000" stroke-width="1.5" stroke-linecap="butt"/>
<line x1="1491" y1="916.65" x2="1503.4" y2="916.65" stroke="#ff0000" stroke-width="1.5" stroke-linecap="butt"/>
<line x1="1491" y1="935.99" x2="1503.4" y2="935.99" stroke="#ff0000" stroke-width="1.5" stroke-linecap="butt"/>
</g>
<g opacity="0.8">
<line x1="1570" y1="979.75" x2="1570" y2="941.07" stroke="#ff0000" stroke-width="1.5" stroke-linecap="butt"/>
<line x1="1563.8" y1="941.07" x2="1576.2" y2="941.07" stroke="#ff0000" stroke-width="1.5" stroke-linecap="butt"/>
<line x1="1563.8" y1="979.75" x2="1576.2" y2="979.75" stroke="#ff0000" stroke-width="1.5" stroke-linecap="butt"/>
</g>
<g opacity="0.8">
<line x1="1642.8" y1="1006.34" x2="1642.8" y2="967.66" stroke="#ff0000" stroke-width="1.5" stroke-linecap="butt"/>
<line x1="1636.6" y1="967.66" x2="1649" y2="967.66" stroke="#ff0000" stroke-width="1.5" stroke-linecap="butt"/>
<line x1="1636.6" y1="1006.34" x2="1649" y2="1006.34" stroke="#ff0000" stroke-width="1.5" stroke-linecap="butt"/>
</g>
<rect x="1273.2" y="928.7" width="11.2" height="11.2" fill="#ff0000"/>
<rect x="1418.8" y="918.06" width="11.2" height="11.2" fill="#ff0000"/>
<rect x="1491.6" y="920.72" width="11.2" height="11.2" fill="#ff0000"/>
<rect x="1564.4" y="954.81" width="11.2" height="11.2" fill="#ff0000"/>
<rect x="1637.2" y="981.4" width="11.2" height="11.2" fill="#ff0000"/>
<rect x="1710" y="1018.63" width="11.2" height="11.2" fill="#ff0000"/>
<circle cx="1278.8" cy="934.3" r="5.6" fill="#0000ff"/>
<circle cx="1424.4" cy="916.89" r="5.6" fill="#0000ff"/>
<circle cx="1497.2" cy="951.95" r="5.6" fill="#0000ff"/>
<circle cx="1570" cy="1040.43" r="5.6" fill="#0000ff"/>
<circle cx="1642.8" cy="1098.69" r="5.6" fill="#0000ff"/>
<circle cx="1715.6" cy="1135.68" r="5.6" fill="#0000ff"/>
<line x1="1278.8" y1="884.6" x2="1278.8" y2="1188.25" stroke="#000" stroke-width="2.7" stroke-linecap="butt"/>
<line x1="1266.8" y1="1176.05" x2="1716.95" y2="1176.05" stroke="#000" stroke-width="2.7" stroke-linecap="butt"/>
<line x1="1266.8" y1="1103.52" x2="1278.8" y2="1103.52" stroke="#000" stroke-width="2.7" stroke-linecap="butt"/>
<text x="1262.4" y="1110.62" font-size="20" font-weight="bold" text-anchor="end" fill="#000">30</text>
<line x1="1266.8" y1="1031" x2="1278.8" y2="1031" stroke="#000" stroke-width="2.7" stroke-linecap="butt"/>
<text x="1262.4" y="1038.1" font-size="20" font-weight="bold" text-anchor="end" fill="#000">60</text>
<line x1="1266.8" y1="958.47" x2="1278.8" y2="958.47" stroke="#000" stroke-width="2.7" stroke-linecap="butt"/>
<text x="1262.4" y="965.57" font-size="20" font-weight="bold" text-anchor="end" fill="#000">90</text>
<line x1="1266.8" y1="885.95" x2="1278.8" y2="885.95" stroke="#000" stroke-width="2.7" stroke-linecap="butt"/>
<text x="1262.4" y="893.05" font-size="20" font-weight="bold" text-anchor="end" fill="#000">120</text>
<text x="1262.4" y="1183.15" font-size="20" font-weight="bold" text-anchor="end" fill="#000">0</text>
<line x1="1424.4" y1="1176.05" x2="1424.4" y2="1188.25" stroke="#000" stroke-width="2.7" stroke-linecap="butt"/>
<line x1="1570" y1="1176.05" x2="1570" y2="1188.25" stroke="#000" stroke-width="2.7" stroke-linecap="butt"/>
<line x1="1715.6" y1="1176.05" x2="1715.6" y2="1188.25" stroke="#000" stroke-width="2.7" stroke-linecap="butt"/>
<text x="1278.8" y="1211.45" font-size="20" font-weight="bold" text-anchor="middle" fill="#000">0</text>
<text x="1424.4" y="1211.45" font-size="20" font-weight="bold" text-anchor="middle" fill="#000">1</text>
<text x="1570" y="1211.45" font-size="20" font-weight="bold" text-anchor="middle" fill="#000">2</text>
<text x="1715.6" y="1211.45" font-size="20" font-weight="bold" text-anchor="middle" fill="#000">3</text>
<text x="1497.7" y="849.6" font-size="23.5" font-weight="bold" text-anchor="middle" fill="#000">TEX</text>
<text x="1497.4" y="1241.4" font-size="19.4" text-anchor="middle" fill="#000"><tspan font-weight="bold">Conc.</tspan> (µM)</text>
<text transform="translate(1216.6,1032) rotate(-90)" font-size="19.6" font-weight="bold" text-anchor="middle" fill="#000" textLength="149.3" lengthAdjust="spacing">Cell Viability (%)</text>
<line x1="1675.7" y1="846.9" x2="1707.9" y2="846.9" stroke="#0000ff" stroke-width="1.8" stroke-opacity="0.55"/>
<circle cx="1691.6" cy="846.9" r="5.6" fill="#0000ff"/>
<text x="1724" y="853.6" font-size="19" font-weight="normal" text-anchor="start" fill="#222" stroke="#222" stroke-width="0.25">SNG</text>
<line x1="1675.7" y1="881.6" x2="1707.9" y2="881.6" stroke="#ff0000" stroke-width="1.8" stroke-opacity="0.55"/>
<rect x="1686" y="876" width="11.2" height="11.2" fill="#ff0000"/>
<text x="1724" y="888.3" font-size="19" font-weight="normal" text-anchor="start" fill="#222" stroke="#222" stroke-width="0.25">CHE</text>
<line x1="1675.7" y1="916.4" x2="1707.9" y2="916.4" stroke="#00c000" stroke-width="1.8" stroke-opacity="0.55"/>
<polygon points="1691.6,909.46 1686,922.22 1697.2,922.22" fill="#00c000"/>
<text x="1724" y="923.1" font-size="19" font-weight="normal" text-anchor="start" fill="#222" stroke="#222" stroke-width="0.25">NTD</text>
<line x1="1675.7" y1="950.5" x2="1707.9" y2="950.5" stroke="#b000e0" stroke-width="1.8" stroke-opacity="0.55"/>
<polygon points="1691.6,957.33 1686.11,944.79 1697.09,944.79" fill="#b000e0"/>
<text x="1724" y="957.2" font-size="19" font-weight="normal" text-anchor="start" fill="#222" stroke="#222" stroke-width="0.25">6ME</text>
</g>
<g id="ic50-table">
<line x1="174.7" y1="1420.4" x2="1581.2" y2="1420.4" stroke="#2a2a2a" stroke-width="2.5" stroke-linecap="butt"/>
<line x1="174.7" y1="1499.5" x2="1581.2" y2="1499.5" stroke="#444" stroke-width="1.5" stroke-linecap="butt"/>
<line x1="174.7" y1="1748.9" x2="1581.2" y2="1748.9" stroke="#2a2a2a" stroke-width="2.5" stroke-linecap="butt"/>
<text x="437" y="1473" font-size="33.5" font-weight="bold" text-anchor="middle" fill="#111">IC<tspan font-size="32" font-weight="normal" dy="12">50</tspan><tspan dy="-12"> (</tspan><tspan font-weight="normal">µ</tspan>M)</text>
<text x="858.7" y="1472.7" font-size="34.4" font-weight="bold" text-anchor="middle" fill="#111">AML2</text>
<text x="1153.3" y="1472.7" font-size="34.4" font-weight="bold" text-anchor="middle" fill="#111">AML3</text>
<text x="1435.7" y="1472.7" font-size="34.4" font-weight="bold" text-anchor="middle" fill="#111">TEX</text>
<text x="438.5" y="1541.5" font-size="31.35" font-weight="normal" text-anchor="middle" fill="#111" stroke="#111" stroke-width="0.3">Sanguinarine (SNG)</text>
<text x="859" y="1541.5" font-size="31.35" font-weight="normal" text-anchor="middle" fill="#111" stroke="#111" stroke-width="0.3">1.322 <tspan font-size="37" dy="3.3" stroke="none" fill="#333">±</tspan><tspan dy="-3.3"> 0.075</tspan></text>
<text x="1153.8" y="1541.5" font-size="31.35" font-weight="normal" text-anchor="middle" fill="#111" stroke="#111" stroke-width="0.3">1.028 <tspan font-size="37" dy="3.3" stroke="none" fill="#333">±</tspan><tspan dy="-3.3"> 0.090</tspan></text>
<text x="1435.4" y="1541.5" font-size="31.35" font-weight="normal" text-anchor="middle" fill="#111" stroke="#111" stroke-width="0.3">2.164 <tspan font-size="37" dy="3.3" stroke="none" fill="#333">±</tspan><tspan dy="-3.3"> 0.086</tspan></text>
<text x="438.5" y="1603" font-size="31.35" font-weight="normal" text-anchor="middle" fill="#111" stroke="#111" stroke-width="0.3">Chelerythrine (CHE)</text>
<text x="859" y="1603" font-size="31.35" font-weight="normal" text-anchor="middle" fill="#111" stroke="#111" stroke-width="0.3">1.112 <tspan font-size="37" dy="3.3" stroke="none" fill="#333">±</tspan><tspan dy="-3.3"> 0.177</tspan></text>
<text x="1153.8" y="1603" font-size="31.35" font-weight="normal" text-anchor="middle" fill="#111" stroke="#111" stroke-width="0.3">2.190 <tspan font-size="37" dy="3.3" stroke="none" fill="#333">±</tspan><tspan dy="-3.3"> 0.215</tspan></text>
<text x="1435.4" y="1603" font-size="31.35" font-weight="normal" text-anchor="middle" fill="#111" stroke="#111" stroke-width="0.3">3.308 <tspan font-size="37" dy="3.3" stroke="none" fill="#333">±</tspan><tspan dy="-3.3"> 0.382</tspan></text>
<text x="438.5" y="1666.2" font-size="31.35" font-weight="normal" text-anchor="middle" fill="#111" stroke="#111" stroke-width="0.3">Nitidine (NTD)</text>
<text x="859" y="1666.2" font-size="31.35" font-weight="normal" text-anchor="middle" fill="#111" stroke="#111" stroke-width="0.3">1.538 <tspan font-size="37" dy="3.3" stroke="none" fill="#333">±</tspan><tspan dy="-3.3"> 0.398</tspan></text>
<text x="1153.8" y="1666.2" font-size="31.35" font-weight="normal" text-anchor="middle" fill="#111" stroke="#111" stroke-width="0.3">0.4861 <tspan font-size="37" dy="3.3" stroke="none" fill="#333">±</tspan><tspan dy="-3.3"> 0.102</tspan></text>
<text x="1435.4" y="1666.2" font-size="31.35" font-weight="normal" text-anchor="middle" fill="#111" stroke="#111" stroke-width="0.3">2.283 <tspan font-size="37" dy="3.3" stroke="none" fill="#333">±</tspan><tspan dy="-3.3"> 0.364</tspan></text>
<text x="438.5" y="1728.7" font-size="31.35" font-weight="normal" text-anchor="middle" fill="#111" stroke="#111" stroke-width="0.3">6-Methoxydihydroavicine (6ME)</text>
<text x="859" y="1728.7" font-size="31.35" font-weight="normal" text-anchor="middle" fill="#111" stroke="#111" stroke-width="0.3">0.4172 <tspan font-size="37" dy="3.3" stroke="none" fill="#333">±</tspan><tspan dy="-3.3"> 0.094</tspan></text>
<text x="1153.8" y="1728.7" font-size="31.35" font-weight="normal" text-anchor="middle" fill="#111" stroke="#111" stroke-width="0.3">0.6441 <tspan font-size="37" dy="3.3" stroke="none" fill="#333">±</tspan><tspan dy="-3.3"> 0.118</tspan></text>
<text x="1435.4" y="1728.7" font-size="31.35" font-weight="normal" text-anchor="middle" fill="#111" stroke="#111" stroke-width="0.3">1.190 <tspan font-size="37" dy="3.3" stroke="none" fill="#333">±</tspan><tspan dy="-3.3"> 0.060</tspan></text>
</g>
</g></svg></body></html>
